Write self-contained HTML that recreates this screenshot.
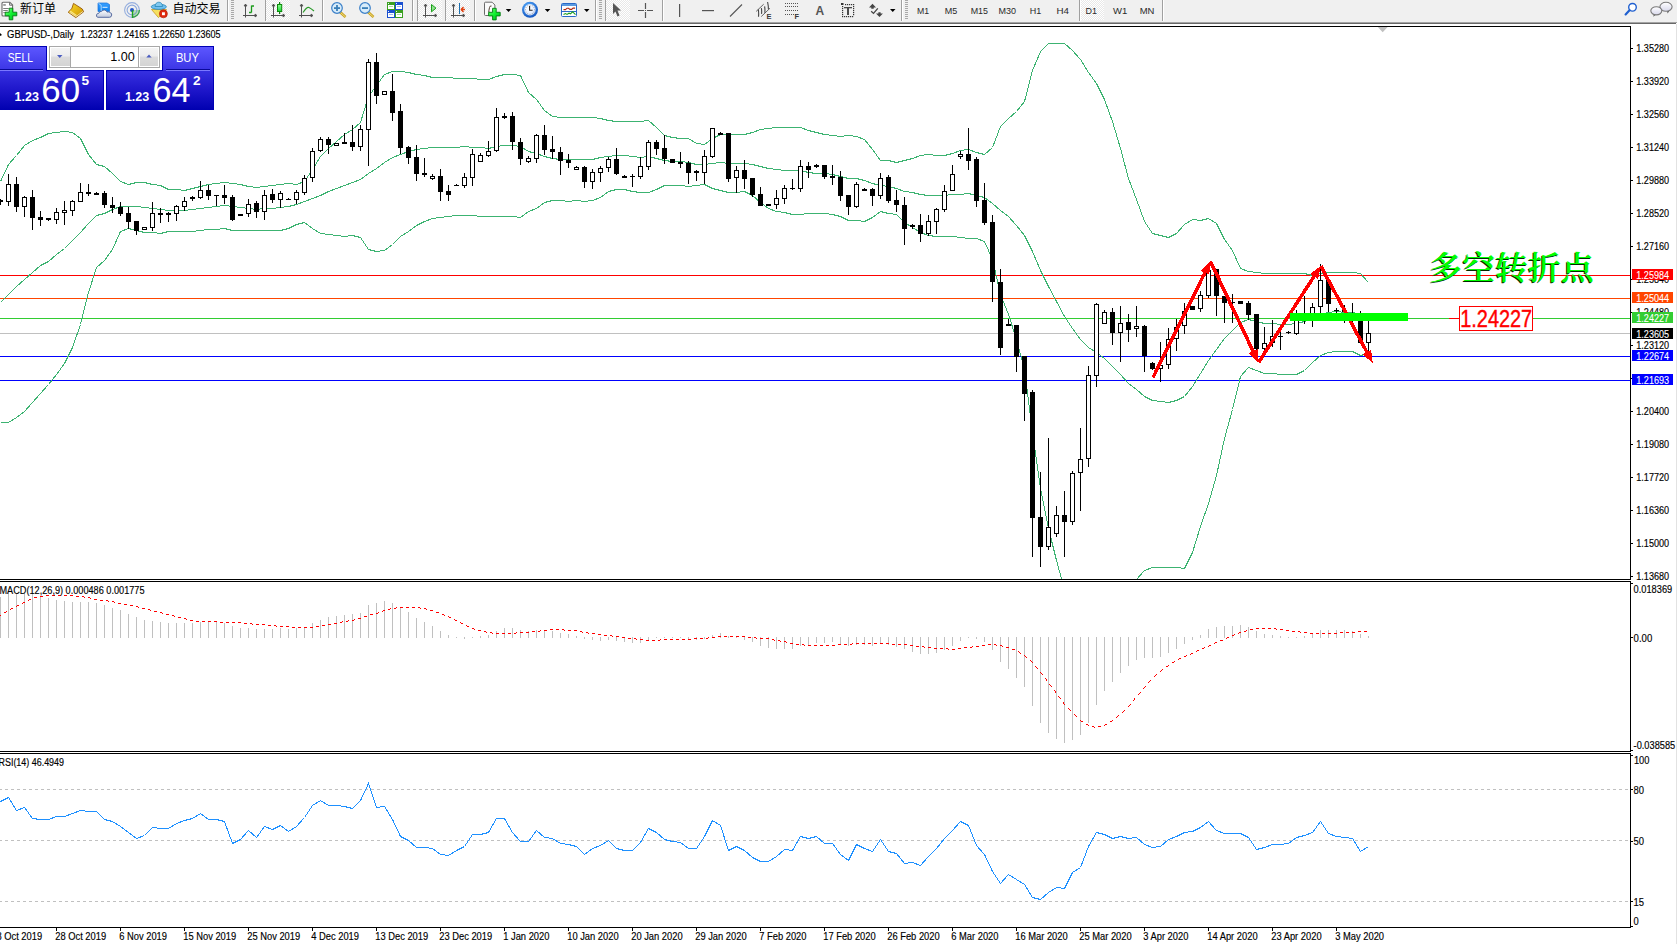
<!DOCTYPE html>
<html><head><meta charset="utf-8"><title>GBPUSD-,Daily</title>
<style>
html,body{margin:0;padding:0;background:#fff;overflow:hidden;width:1677px;height:944px}
svg{display:block}
text{font-family:'Liberation Sans', sans-serif}
.ax{font-size:10px;fill:#000;stroke:#000;stroke-width:0.15px}
</style></head><body>
<svg width="1677" height="944" viewBox="0 0 1677 944">
<rect x="0" y="0" width="1677" height="944" fill="#fff"/>

<defs>
<clipPath id="cm"><rect x="0" y="27" width="1630" height="552"/></clipPath>
<clipPath id="cd"><rect x="0" y="582" width="1630" height="169"/></clipPath>
<clipPath id="cr"><rect x="0" y="754" width="1630" height="173"/></clipPath>
<linearGradient id="gSell" x1="0" y1="0" x2="0" y2="1"><stop offset="0" stop-color="#5a5aff"/><stop offset="1" stop-color="#3232ee"/></linearGradient>
<linearGradient id="gBot" x1="0" y1="0" x2="0" y2="1"><stop offset="0" stop-color="#3030e6"/><stop offset="1" stop-color="#0000b0"/></linearGradient>
<linearGradient id="gSpin" x1="0" y1="0" x2="0" y2="1"><stop offset="0" stop-color="#f4f4f4"/><stop offset="0.45" stop-color="#ececec"/><stop offset="0.5" stop-color="#dcdcdc"/><stop offset="1" stop-color="#d4d4d4"/></linearGradient>
</defs>
<g clip-path="url(#cm)" shape-rendering="crispEdges">
<rect x="0" y="275" width="1630" height="1" fill="#ff0000"/>
<rect x="0" y="298" width="1630" height="1" fill="#ff4500"/>
<rect x="0" y="318" width="1630" height="1" fill="#32cd32"/>
<rect x="0" y="333" width="1630" height="1" fill="#c0c0c0"/>
<rect x="0" y="356" width="1630" height="1" fill="#0000ff"/>
<rect x="0" y="380" width="1630" height="1" fill="#0000ff"/>
<polyline points="0.5,181.5 8.5,164.5 16.5,155.5 24.5,145.5 32.5,140.5 40.5,137.5 48.5,133.5 56.5,132.5 64.5,131.5 72.5,132.5 80.5,138.5 88.5,154.5 96.5,164.5 104.5,166.5 112.5,173.5 120.5,181.5 128.5,184.5 136.5,182.5 144.5,182.5 152.5,184.5 160.5,185.5 168.5,189.5 176.5,189.5 184.5,190.5 192.5,188.5 200.5,186.5 208.5,184.5 216.5,183.5 224.5,182.5 232.5,183.5 240.5,184.5 248.5,186.5 256.5,187.5 264.5,186.5 272.5,185.5 280.5,184.5 288.5,183.5 296.5,184.5 304.5,181.5 312.5,169.5 320.5,156.5 328.5,148.5 336.5,141.5 344.5,134.5 352.5,129.5 360.5,122.5 368.5,96.5 376.5,85.5 384.5,74.5 392.5,71.5 400.5,71.5 408.5,72.5 416.5,74.5 424.5,75.5 432.5,77.5 440.5,77.5 448.5,77.5 456.5,78.5 464.5,78.5 472.5,78.5 480.5,79.5 488.5,79.5 496.5,76.5 504.5,74.5 512.5,74.5 520.5,75.5 528.5,92.5 536.5,99.5 544.5,110.5 552.5,116.5 560.5,117.5 568.5,117.5 576.5,117.5 584.5,117.5 592.5,117.5 600.5,118.5 608.5,120.5 616.5,121.5 624.5,121.5 632.5,121.5 640.5,121.5 648.5,120.5 656.5,127.5 664.5,135.5 672.5,137.5 680.5,138.5 688.5,138.5 696.5,143.5 704.5,144.5 712.5,138.5 720.5,134.5 728.5,134.5 736.5,134.5 744.5,134.5 752.5,132.5 760.5,129.5 768.5,128.5 776.5,127.5 784.5,127.5 792.5,127.5 800.5,127.5 808.5,130.5 816.5,132.5 824.5,134.5 832.5,135.5 840.5,136.5 848.5,135.5 856.5,136.5 864.5,139.5 872.5,149.5 880.5,160.5 888.5,160.5 896.5,162.5 904.5,160.5 912.5,158.5 920.5,155.5 928.5,154.5 936.5,155.5 944.5,155.5 952.5,153.5 960.5,150.5 968.5,149.5 976.5,152.5 984.5,154.5 992.5,147.5 1000.5,126.5 1008.5,118.5 1016.5,111.5 1024.5,101.5 1032.5,70.5 1040.5,51.5 1048.5,43.5 1056.5,43.5 1064.5,43.5 1072.5,50.5 1080.5,59.5 1088.5,72.5 1096.5,83.5 1104.5,99.5 1112.5,121.5 1120.5,148.5 1128.5,178.5 1136.5,199.5 1144.5,221.5 1152.5,233.5 1160.5,235.5 1168.5,237.5 1176.5,233.5 1184.5,224.5 1192.5,219.5 1200.5,220.5 1208.5,218.5 1216.5,223.5 1224.5,239.5 1232.5,250.5 1240.5,268.5 1248.5,271.5 1256.5,272.5 1264.5,273.5 1272.5,273.5 1280.5,273.5 1288.5,273.5 1296.5,273.5 1304.5,273.5 1312.5,275.5 1320.5,273.5 1328.5,272.5 1336.5,272.5 1344.5,272.5 1352.5,272.5 1360.5,273.5 1368.5,282.5" fill="none" stroke="#3cb371" stroke-width="1"/>
<polyline points="0.5,302.5 8.5,294.5 16.5,286.5 24.5,279.5 32.5,272.5 40.5,265.5 48.5,261.5 56.5,254.5 64.5,248.5 72.5,240.5 80.5,232.5 88.5,223.5 96.5,215.5 104.5,213.5 112.5,209.5 120.5,206.5 128.5,206.5 136.5,206.5 144.5,207.5 152.5,208.5 160.5,209.5 168.5,210.5 176.5,210.5 184.5,210.5 192.5,209.5 200.5,208.5 208.5,207.5 216.5,206.5 224.5,205.5 232.5,206.5 240.5,207.5 248.5,208.5 256.5,209.5 264.5,208.5 272.5,208.5 280.5,207.5 288.5,206.5 296.5,204.5 304.5,201.5 312.5,198.5 320.5,195.5 328.5,191.5 336.5,188.5 344.5,185.5 352.5,182.5 360.5,179.5 368.5,173.5 376.5,168.5 384.5,162.5 392.5,157.5 400.5,154.5 408.5,151.5 416.5,149.5 424.5,148.5 432.5,147.5 440.5,147.5 448.5,147.5 456.5,147.5 464.5,146.5 472.5,147.5 480.5,147.5 488.5,148.5 496.5,146.5 504.5,145.5 512.5,145.5 520.5,146.5 528.5,151.5 536.5,153.5 544.5,156.5 552.5,158.5 560.5,159.5 568.5,159.5 576.5,159.5 584.5,159.5 592.5,159.5 600.5,157.5 608.5,156.5 616.5,155.5 624.5,155.5 632.5,156.5 640.5,157.5 648.5,156.5 656.5,158.5 664.5,160.5 672.5,161.5 680.5,161.5 688.5,162.5 696.5,164.5 704.5,164.5 712.5,163.5 720.5,162.5 728.5,163.5 736.5,163.5 744.5,163.5 752.5,164.5 760.5,166.5 768.5,168.5 776.5,169.5 784.5,170.5 792.5,170.5 800.5,170.5 808.5,172.5 816.5,173.5 824.5,173.5 832.5,174.5 840.5,176.5 848.5,178.5 856.5,178.5 864.5,180.5 872.5,183.5 880.5,185.5 888.5,186.5 896.5,188.5 904.5,191.5 912.5,192.5 920.5,194.5 928.5,195.5 936.5,195.5 944.5,195.5 952.5,194.5 960.5,194.5 968.5,193.5 976.5,195.5 984.5,197.5 992.5,203.5 1000.5,210.5 1008.5,216.5 1016.5,225.5 1024.5,235.5 1032.5,251.5 1040.5,270.5 1048.5,286.5 1056.5,301.5 1064.5,316.5 1072.5,328.5 1080.5,339.5 1088.5,347.5 1096.5,352.5 1104.5,358.5 1112.5,366.5 1120.5,374.5 1128.5,383.5 1136.5,389.5 1144.5,396.5 1152.5,400.5 1160.5,401.5 1168.5,402.5 1176.5,400.5 1184.5,396.5 1192.5,386.5 1200.5,373.5 1208.5,360.5 1216.5,349.5 1224.5,338.5 1232.5,330.5 1240.5,322.5 1248.5,319.5 1256.5,321.5 1264.5,323.5 1272.5,323.5 1280.5,324.5 1288.5,324.5 1296.5,323.5 1304.5,321.5 1312.5,318.5 1320.5,314.5 1328.5,312.5 1336.5,311.5 1344.5,312.5 1352.5,312.5 1360.5,314.5 1368.5,317.5" fill="none" stroke="#3cb371" stroke-width="1"/>
<polyline points="0.5,422.5 8.5,422.5 16.5,417.5 24.5,411.5 32.5,402.5 40.5,393.5 48.5,384.5 56.5,374.5 64.5,363.5 72.5,347.5 80.5,324.5 88.5,292.5 96.5,267.5 104.5,260.5 112.5,249.5 120.5,231.5 128.5,228.5 136.5,230.5 144.5,232.5 152.5,232.5 160.5,233.5 168.5,231.5 176.5,231.5 184.5,231.5 192.5,231.5 200.5,230.5 208.5,229.5 216.5,229.5 224.5,228.5 232.5,230.5 240.5,230.5 248.5,230.5 256.5,230.5 264.5,230.5 272.5,230.5 280.5,230.5 288.5,228.5 296.5,224.5 304.5,222.5 312.5,228.5 320.5,233.5 328.5,234.5 336.5,235.5 344.5,236.5 352.5,235.5 360.5,237.5 368.5,249.5 376.5,251.5 384.5,250.5 392.5,244.5 400.5,236.5 408.5,231.5 416.5,225.5 424.5,221.5 432.5,218.5 440.5,217.5 448.5,216.5 456.5,215.5 464.5,215.5 472.5,215.5 480.5,216.5 488.5,216.5 496.5,216.5 504.5,216.5 512.5,216.5 520.5,217.5 528.5,211.5 536.5,208.5 544.5,202.5 552.5,200.5 560.5,200.5 568.5,201.5 576.5,200.5 584.5,201.5 592.5,200.5 600.5,197.5 608.5,191.5 616.5,189.5 624.5,189.5 632.5,191.5 640.5,192.5 648.5,192.5 656.5,189.5 664.5,185.5 672.5,185.5 680.5,185.5 688.5,186.5 696.5,185.5 704.5,184.5 712.5,188.5 720.5,190.5 728.5,192.5 736.5,192.5 744.5,191.5 752.5,195.5 760.5,202.5 768.5,208.5 776.5,211.5 784.5,212.5 792.5,214.5 800.5,214.5 808.5,213.5 816.5,213.5 824.5,213.5 832.5,214.5 840.5,216.5 848.5,220.5 856.5,220.5 864.5,221.5 872.5,217.5 880.5,211.5 888.5,213.5 896.5,214.5 904.5,222.5 912.5,227.5 920.5,232.5 928.5,235.5 936.5,236.5 944.5,236.5 952.5,236.5 960.5,237.5 968.5,238.5 976.5,238.5 984.5,241.5 992.5,259.5 1000.5,294.5 1008.5,314.5 1016.5,339.5 1024.5,369.5 1032.5,432.5 1040.5,488.5 1048.5,528.5 1056.5,560.5 1064.5,589.5 1072.5,606.5 1080.5,620.5 1088.5,622.5 1096.5,620.5 1104.5,617.5 1112.5,611.5 1120.5,601.5 1128.5,588.5 1136.5,579.5 1144.5,570.5 1152.5,567.5 1160.5,567.5 1168.5,567.5 1176.5,567.5 1184.5,568.5 1192.5,552.5 1200.5,526.5 1208.5,503.5 1216.5,475.5 1224.5,438.5 1232.5,409.5 1240.5,376.5 1248.5,367.5 1256.5,370.5 1264.5,373.5 1272.5,373.5 1280.5,374.5 1288.5,374.5 1296.5,374.5 1304.5,370.5 1312.5,362.5 1320.5,355.5 1328.5,352.5 1336.5,351.5 1344.5,351.5 1352.5,351.5 1360.5,355.5 1368.5,353.5" fill="none" stroke="#3cb371" stroke-width="1"/>
<rect x="0" y="199" width="1" height="6" fill="#000"/>
<rect x="-2" y="200" width="5" height="2" fill="#000"/>
<rect x="8" y="174" width="1" height="32" fill="#000"/>
<rect x="6" y="184" width="5" height="18" fill="#000"/>
<rect x="7" y="185" width="3" height="16" fill="#fff"/>
<rect x="16" y="177" width="1" height="35" fill="#000"/>
<rect x="14" y="184" width="5" height="23" fill="#000"/>
<rect x="24" y="196" width="1" height="21" fill="#000"/>
<rect x="22" y="197" width="5" height="10" fill="#000"/>
<rect x="23" y="198" width="3" height="8" fill="#fff"/>
<rect x="32" y="190" width="1" height="40" fill="#000"/>
<rect x="30" y="197" width="5" height="21" fill="#000"/>
<rect x="40" y="211" width="1" height="15" fill="#000"/>
<rect x="38" y="217" width="5" height="3" fill="#000"/>
<rect x="48" y="218" width="1" height="3" fill="#000"/>
<rect x="46" y="218" width="5" height="2" fill="#000"/>
<rect x="56" y="208" width="1" height="16" fill="#000"/>
<rect x="54" y="212" width="5" height="8" fill="#000"/>
<rect x="55" y="213" width="3" height="6" fill="#fff"/>
<rect x="64" y="201" width="1" height="24" fill="#000"/>
<rect x="62" y="210" width="5" height="3" fill="#000"/>
<rect x="63" y="211" width="3" height="1" fill="#fff"/>
<rect x="72" y="200" width="1" height="16" fill="#000"/>
<rect x="70" y="201" width="5" height="10" fill="#000"/>
<rect x="71" y="202" width="3" height="8" fill="#fff"/>
<rect x="80" y="183" width="1" height="19" fill="#000"/>
<rect x="78" y="192" width="5" height="10" fill="#000"/>
<rect x="79" y="193" width="3" height="8" fill="#fff"/>
<rect x="88" y="184" width="1" height="12" fill="#000"/>
<rect x="86" y="192" width="5" height="2" fill="#000"/>
<rect x="96" y="192" width="1" height="3" fill="#000"/>
<rect x="94" y="193" width="5" height="2" fill="#000"/>
<rect x="104" y="191" width="1" height="17" fill="#000"/>
<rect x="102" y="193" width="5" height="12" fill="#000"/>
<rect x="112" y="197" width="1" height="16" fill="#000"/>
<rect x="110" y="205" width="5" height="3" fill="#000"/>
<rect x="120" y="202" width="1" height="14" fill="#000"/>
<rect x="118" y="207" width="5" height="7" fill="#000"/>
<rect x="128" y="207" width="1" height="22" fill="#000"/>
<rect x="126" y="213" width="5" height="9" fill="#000"/>
<rect x="136" y="221" width="1" height="14" fill="#000"/>
<rect x="134" y="221" width="5" height="10" fill="#000"/>
<rect x="144" y="227" width="1" height="3" fill="#000"/>
<rect x="142" y="227" width="5" height="3" fill="#000"/>
<rect x="143" y="228" width="3" height="1" fill="#fff"/>
<rect x="152" y="202" width="1" height="29" fill="#000"/>
<rect x="150" y="213" width="5" height="15" fill="#000"/>
<rect x="151" y="214" width="3" height="13" fill="#fff"/>
<rect x="160" y="208" width="1" height="15" fill="#000"/>
<rect x="158" y="213" width="5" height="2" fill="#000"/>
<rect x="168" y="212" width="1" height="10" fill="#000"/>
<rect x="166" y="213" width="5" height="2" fill="#000"/>
<rect x="176" y="205" width="1" height="16" fill="#000"/>
<rect x="174" y="206" width="5" height="8" fill="#000"/>
<rect x="175" y="207" width="3" height="6" fill="#fff"/>
<rect x="184" y="197" width="1" height="14" fill="#000"/>
<rect x="182" y="201" width="5" height="6" fill="#000"/>
<rect x="183" y="202" width="3" height="4" fill="#fff"/>
<rect x="192" y="196" width="1" height="5" fill="#000"/>
<rect x="190" y="197" width="5" height="2" fill="#000"/>
<rect x="200" y="181" width="1" height="18" fill="#000"/>
<rect x="198" y="190" width="5" height="8" fill="#000"/>
<rect x="199" y="191" width="3" height="6" fill="#fff"/>
<rect x="208" y="185" width="1" height="15" fill="#000"/>
<rect x="206" y="190" width="5" height="6" fill="#000"/>
<rect x="216" y="195" width="1" height="11" fill="#000"/>
<rect x="214" y="195" width="5" height="1" fill="#000"/>
<rect x="224" y="185" width="1" height="19" fill="#000"/>
<rect x="222" y="195" width="5" height="3" fill="#000"/>
<rect x="232" y="195" width="1" height="26" fill="#000"/>
<rect x="230" y="197" width="5" height="23" fill="#000"/>
<rect x="240" y="214" width="1" height="2" fill="#000"/>
<rect x="238" y="214" width="5" height="2" fill="#000"/>
<rect x="248" y="199" width="1" height="18" fill="#000"/>
<rect x="246" y="204" width="5" height="10" fill="#000"/>
<rect x="247" y="205" width="3" height="8" fill="#fff"/>
<rect x="256" y="201" width="1" height="17" fill="#000"/>
<rect x="254" y="203" width="5" height="9" fill="#000"/>
<rect x="264" y="190" width="1" height="30" fill="#000"/>
<rect x="262" y="195" width="5" height="17" fill="#000"/>
<rect x="263" y="196" width="3" height="15" fill="#fff"/>
<rect x="272" y="189" width="1" height="14" fill="#000"/>
<rect x="270" y="194" width="5" height="6" fill="#000"/>
<rect x="280" y="191" width="1" height="17" fill="#000"/>
<rect x="278" y="193" width="5" height="7" fill="#000"/>
<rect x="279" y="194" width="3" height="5" fill="#fff"/>
<rect x="288" y="198" width="1" height="2" fill="#000"/>
<rect x="286" y="199" width="5" height="1" fill="#000"/>
<rect x="296" y="190" width="1" height="14" fill="#000"/>
<rect x="294" y="192" width="5" height="8" fill="#000"/>
<rect x="295" y="193" width="3" height="6" fill="#fff"/>
<rect x="304" y="175" width="1" height="20" fill="#000"/>
<rect x="302" y="178" width="5" height="15" fill="#000"/>
<rect x="303" y="179" width="3" height="13" fill="#fff"/>
<rect x="312" y="148" width="1" height="34" fill="#000"/>
<rect x="310" y="151" width="5" height="27" fill="#000"/>
<rect x="311" y="152" width="3" height="25" fill="#fff"/>
<rect x="320" y="137" width="1" height="15" fill="#000"/>
<rect x="318" y="139" width="5" height="12" fill="#000"/>
<rect x="319" y="140" width="3" height="10" fill="#fff"/>
<rect x="328" y="137" width="1" height="17" fill="#000"/>
<rect x="326" y="139" width="5" height="6" fill="#000"/>
<rect x="336" y="143" width="1" height="3" fill="#000"/>
<rect x="334" y="143" width="5" height="3" fill="#000"/>
<rect x="335" y="144" width="3" height="1" fill="#fff"/>
<rect x="344" y="133" width="1" height="11" fill="#000"/>
<rect x="342" y="142" width="5" height="2" fill="#000"/>
<rect x="352" y="125" width="1" height="26" fill="#000"/>
<rect x="350" y="142" width="5" height="5" fill="#000"/>
<rect x="360" y="125" width="1" height="26" fill="#000"/>
<rect x="358" y="129" width="5" height="18" fill="#000"/>
<rect x="359" y="130" width="3" height="16" fill="#fff"/>
<rect x="368" y="59" width="1" height="107" fill="#000"/>
<rect x="366" y="62" width="5" height="68" fill="#000"/>
<rect x="367" y="63" width="3" height="66" fill="#fff"/>
<rect x="376" y="53" width="1" height="51" fill="#000"/>
<rect x="374" y="62" width="5" height="34" fill="#000"/>
<rect x="384" y="91" width="1" height="4" fill="#000"/>
<rect x="382" y="91" width="5" height="4" fill="#000"/>
<rect x="383" y="92" width="3" height="2" fill="#fff"/>
<rect x="392" y="74" width="1" height="47" fill="#000"/>
<rect x="390" y="91" width="5" height="22" fill="#000"/>
<rect x="400" y="104" width="1" height="50" fill="#000"/>
<rect x="398" y="111" width="5" height="37" fill="#000"/>
<rect x="408" y="146" width="1" height="18" fill="#000"/>
<rect x="406" y="147" width="5" height="11" fill="#000"/>
<rect x="416" y="145" width="1" height="36" fill="#000"/>
<rect x="414" y="157" width="5" height="17" fill="#000"/>
<rect x="424" y="158" width="1" height="19" fill="#000"/>
<rect x="422" y="173" width="5" height="2" fill="#000"/>
<rect x="432" y="174" width="1" height="6" fill="#000"/>
<rect x="430" y="176" width="5" height="3" fill="#000"/>
<rect x="431" y="177" width="3" height="1" fill="#fff"/>
<rect x="440" y="169" width="1" height="32" fill="#000"/>
<rect x="438" y="176" width="5" height="16" fill="#000"/>
<rect x="448" y="185" width="1" height="16" fill="#000"/>
<rect x="446" y="191" width="5" height="4" fill="#000"/>
<rect x="456" y="184" width="1" height="2" fill="#000"/>
<rect x="454" y="185" width="5" height="1" fill="#000"/>
<rect x="464" y="173" width="1" height="15" fill="#000"/>
<rect x="462" y="177" width="5" height="9" fill="#000"/>
<rect x="463" y="178" width="3" height="7" fill="#fff"/>
<rect x="472" y="149" width="1" height="37" fill="#000"/>
<rect x="470" y="154" width="5" height="24" fill="#000"/>
<rect x="471" y="155" width="3" height="22" fill="#fff"/>
<rect x="480" y="153" width="1" height="9" fill="#000"/>
<rect x="478" y="155" width="5" height="7" fill="#000"/>
<rect x="479" y="156" width="3" height="5" fill="#fff"/>
<rect x="488" y="141" width="1" height="16" fill="#000"/>
<rect x="486" y="151" width="5" height="5" fill="#000"/>
<rect x="487" y="152" width="3" height="3" fill="#fff"/>
<rect x="496" y="108" width="1" height="44" fill="#000"/>
<rect x="494" y="117" width="5" height="34" fill="#000"/>
<rect x="495" y="118" width="3" height="32" fill="#fff"/>
<rect x="504" y="113" width="1" height="6" fill="#000"/>
<rect x="502" y="116" width="5" height="2" fill="#000"/>
<rect x="512" y="112" width="1" height="38" fill="#000"/>
<rect x="510" y="116" width="5" height="26" fill="#000"/>
<rect x="520" y="138" width="1" height="27" fill="#000"/>
<rect x="518" y="142" width="5" height="17" fill="#000"/>
<rect x="528" y="156" width="1" height="7" fill="#000"/>
<rect x="526" y="158" width="5" height="4" fill="#000"/>
<rect x="527" y="159" width="3" height="2" fill="#fff"/>
<rect x="536" y="134" width="1" height="29" fill="#000"/>
<rect x="534" y="135" width="5" height="24" fill="#000"/>
<rect x="535" y="136" width="3" height="22" fill="#fff"/>
<rect x="544" y="125" width="1" height="30" fill="#000"/>
<rect x="542" y="135" width="5" height="15" fill="#000"/>
<rect x="552" y="136" width="1" height="23" fill="#000"/>
<rect x="550" y="149" width="5" height="3" fill="#000"/>
<rect x="560" y="147" width="1" height="28" fill="#000"/>
<rect x="558" y="152" width="5" height="9" fill="#000"/>
<rect x="568" y="154" width="1" height="14" fill="#000"/>
<rect x="566" y="160" width="5" height="3" fill="#000"/>
<rect x="576" y="166" width="1" height="4" fill="#000"/>
<rect x="574" y="167" width="5" height="3" fill="#000"/>
<rect x="575" y="168" width="3" height="1" fill="#fff"/>
<rect x="584" y="166" width="1" height="22" fill="#000"/>
<rect x="582" y="167" width="5" height="15" fill="#000"/>
<rect x="592" y="169" width="1" height="20" fill="#000"/>
<rect x="590" y="172" width="5" height="10" fill="#000"/>
<rect x="591" y="173" width="3" height="8" fill="#fff"/>
<rect x="600" y="166" width="1" height="16" fill="#000"/>
<rect x="598" y="168" width="5" height="5" fill="#000"/>
<rect x="599" y="169" width="3" height="3" fill="#fff"/>
<rect x="608" y="157" width="1" height="15" fill="#000"/>
<rect x="606" y="159" width="5" height="9" fill="#000"/>
<rect x="607" y="160" width="3" height="7" fill="#fff"/>
<rect x="616" y="148" width="1" height="27" fill="#000"/>
<rect x="614" y="159" width="5" height="15" fill="#000"/>
<rect x="624" y="175" width="1" height="3" fill="#000"/>
<rect x="622" y="176" width="5" height="2" fill="#000"/>
<rect x="632" y="174" width="1" height="13" fill="#000"/>
<rect x="630" y="176" width="5" height="1" fill="#000"/>
<rect x="640" y="157" width="1" height="22" fill="#000"/>
<rect x="638" y="166" width="5" height="11" fill="#000"/>
<rect x="639" y="167" width="3" height="9" fill="#fff"/>
<rect x="648" y="140" width="1" height="30" fill="#000"/>
<rect x="646" y="142" width="5" height="25" fill="#000"/>
<rect x="647" y="143" width="3" height="23" fill="#fff"/>
<rect x="656" y="140" width="1" height="15" fill="#000"/>
<rect x="654" y="142" width="5" height="7" fill="#000"/>
<rect x="664" y="135" width="1" height="29" fill="#000"/>
<rect x="662" y="148" width="5" height="11" fill="#000"/>
<rect x="672" y="159" width="1" height="4" fill="#000"/>
<rect x="670" y="159" width="5" height="4" fill="#000"/>
<rect x="680" y="152" width="1" height="16" fill="#000"/>
<rect x="678" y="162" width="5" height="2" fill="#000"/>
<rect x="688" y="161" width="1" height="23" fill="#000"/>
<rect x="686" y="163" width="5" height="10" fill="#000"/>
<rect x="696" y="170" width="1" height="11" fill="#000"/>
<rect x="694" y="171" width="5" height="2" fill="#000"/>
<rect x="704" y="150" width="1" height="34" fill="#000"/>
<rect x="702" y="156" width="5" height="17" fill="#000"/>
<rect x="703" y="157" width="3" height="15" fill="#fff"/>
<rect x="712" y="128" width="1" height="30" fill="#000"/>
<rect x="710" y="128" width="5" height="29" fill="#000"/>
<rect x="711" y="129" width="3" height="27" fill="#fff"/>
<rect x="720" y="132" width="1" height="3" fill="#000"/>
<rect x="718" y="133" width="5" height="2" fill="#000"/>
<rect x="728" y="133" width="1" height="49" fill="#000"/>
<rect x="726" y="133" width="5" height="46" fill="#000"/>
<rect x="736" y="166" width="1" height="27" fill="#000"/>
<rect x="734" y="170" width="5" height="8" fill="#000"/>
<rect x="735" y="171" width="3" height="6" fill="#fff"/>
<rect x="744" y="160" width="1" height="29" fill="#000"/>
<rect x="742" y="170" width="5" height="9" fill="#000"/>
<rect x="752" y="178" width="1" height="19" fill="#000"/>
<rect x="750" y="178" width="5" height="17" fill="#000"/>
<rect x="760" y="187" width="1" height="19" fill="#000"/>
<rect x="758" y="194" width="5" height="12" fill="#000"/>
<rect x="768" y="204" width="1" height="2" fill="#000"/>
<rect x="766" y="204" width="5" height="2" fill="#000"/>
<rect x="776" y="190" width="1" height="19" fill="#000"/>
<rect x="774" y="198" width="5" height="7" fill="#000"/>
<rect x="775" y="199" width="3" height="5" fill="#fff"/>
<rect x="784" y="185" width="1" height="19" fill="#000"/>
<rect x="782" y="188" width="5" height="11" fill="#000"/>
<rect x="783" y="189" width="3" height="9" fill="#fff"/>
<rect x="792" y="179" width="1" height="11" fill="#000"/>
<rect x="790" y="188" width="5" height="1" fill="#000"/>
<rect x="800" y="160" width="1" height="32" fill="#000"/>
<rect x="798" y="166" width="5" height="23" fill="#000"/>
<rect x="799" y="167" width="3" height="21" fill="#fff"/>
<rect x="808" y="162" width="1" height="16" fill="#000"/>
<rect x="806" y="166" width="5" height="4" fill="#000"/>
<rect x="816" y="164" width="1" height="4" fill="#000"/>
<rect x="814" y="165" width="5" height="2" fill="#000"/>
<rect x="824" y="165" width="1" height="14" fill="#000"/>
<rect x="822" y="165" width="5" height="12" fill="#000"/>
<rect x="832" y="165" width="1" height="20" fill="#000"/>
<rect x="830" y="176" width="5" height="2" fill="#000"/>
<rect x="840" y="171" width="1" height="30" fill="#000"/>
<rect x="838" y="177" width="5" height="19" fill="#000"/>
<rect x="848" y="195" width="1" height="20" fill="#000"/>
<rect x="846" y="195" width="5" height="12" fill="#000"/>
<rect x="856" y="182" width="1" height="26" fill="#000"/>
<rect x="854" y="184" width="5" height="23" fill="#000"/>
<rect x="855" y="185" width="3" height="21" fill="#fff"/>
<rect x="864" y="188" width="1" height="3" fill="#000"/>
<rect x="862" y="189" width="5" height="2" fill="#000"/>
<rect x="872" y="188" width="1" height="18" fill="#000"/>
<rect x="870" y="189" width="5" height="7" fill="#000"/>
<rect x="880" y="173" width="1" height="26" fill="#000"/>
<rect x="878" y="178" width="5" height="18" fill="#000"/>
<rect x="879" y="179" width="3" height="16" fill="#fff"/>
<rect x="888" y="175" width="1" height="28" fill="#000"/>
<rect x="886" y="177" width="5" height="24" fill="#000"/>
<rect x="896" y="190" width="1" height="22" fill="#000"/>
<rect x="894" y="200" width="5" height="5" fill="#000"/>
<rect x="904" y="197" width="1" height="48" fill="#000"/>
<rect x="902" y="205" width="5" height="24" fill="#000"/>
<rect x="912" y="224" width="1" height="5" fill="#000"/>
<rect x="910" y="225" width="5" height="2" fill="#000"/>
<rect x="920" y="214" width="1" height="28" fill="#000"/>
<rect x="918" y="225" width="5" height="9" fill="#000"/>
<rect x="928" y="215" width="1" height="21" fill="#000"/>
<rect x="926" y="221" width="5" height="13" fill="#000"/>
<rect x="927" y="222" width="3" height="11" fill="#fff"/>
<rect x="936" y="208" width="1" height="26" fill="#000"/>
<rect x="934" y="209" width="5" height="13" fill="#000"/>
<rect x="935" y="210" width="3" height="11" fill="#fff"/>
<rect x="944" y="185" width="1" height="27" fill="#000"/>
<rect x="942" y="191" width="5" height="19" fill="#000"/>
<rect x="943" y="192" width="3" height="17" fill="#fff"/>
<rect x="952" y="165" width="1" height="26" fill="#000"/>
<rect x="950" y="174" width="5" height="17" fill="#000"/>
<rect x="951" y="175" width="3" height="15" fill="#fff"/>
<rect x="960" y="151" width="1" height="8" fill="#000"/>
<rect x="958" y="154" width="5" height="3" fill="#000"/>
<rect x="959" y="155" width="3" height="1" fill="#fff"/>
<rect x="968" y="128" width="1" height="42" fill="#000"/>
<rect x="966" y="154" width="5" height="7" fill="#000"/>
<rect x="976" y="157" width="1" height="50" fill="#000"/>
<rect x="974" y="159" width="5" height="42" fill="#000"/>
<rect x="984" y="183" width="1" height="42" fill="#000"/>
<rect x="982" y="200" width="5" height="23" fill="#000"/>
<rect x="992" y="215" width="1" height="87" fill="#000"/>
<rect x="990" y="222" width="5" height="60" fill="#000"/>
<rect x="1000" y="269" width="1" height="86" fill="#000"/>
<rect x="998" y="282" width="5" height="66" fill="#000"/>
<rect x="1008" y="319" width="1" height="7" fill="#000"/>
<rect x="1006" y="324" width="5" height="2" fill="#000"/>
<rect x="1016" y="325" width="1" height="47" fill="#000"/>
<rect x="1014" y="325" width="5" height="32" fill="#000"/>
<rect x="1024" y="356" width="1" height="65" fill="#000"/>
<rect x="1022" y="356" width="5" height="38" fill="#000"/>
<rect x="1032" y="390" width="1" height="167" fill="#000"/>
<rect x="1030" y="392" width="5" height="126" fill="#000"/>
<rect x="1040" y="472" width="1" height="95" fill="#000"/>
<rect x="1038" y="517" width="5" height="30" fill="#000"/>
<rect x="1048" y="438" width="1" height="112" fill="#000"/>
<rect x="1046" y="527" width="5" height="20" fill="#000"/>
<rect x="1047" y="528" width="3" height="18" fill="#fff"/>
<rect x="1056" y="506" width="1" height="31" fill="#000"/>
<rect x="1054" y="515" width="5" height="19" fill="#000"/>
<rect x="1055" y="516" width="3" height="17" fill="#fff"/>
<rect x="1064" y="491" width="1" height="66" fill="#000"/>
<rect x="1062" y="515" width="5" height="7" fill="#000"/>
<rect x="1072" y="471" width="1" height="54" fill="#000"/>
<rect x="1070" y="473" width="5" height="49" fill="#000"/>
<rect x="1071" y="474" width="3" height="47" fill="#fff"/>
<rect x="1080" y="428" width="1" height="83" fill="#000"/>
<rect x="1078" y="459" width="5" height="14" fill="#000"/>
<rect x="1079" y="460" width="3" height="12" fill="#fff"/>
<rect x="1088" y="366" width="1" height="101" fill="#000"/>
<rect x="1086" y="375" width="5" height="84" fill="#000"/>
<rect x="1087" y="376" width="3" height="82" fill="#fff"/>
<rect x="1096" y="303" width="1" height="84" fill="#000"/>
<rect x="1094" y="304" width="5" height="72" fill="#000"/>
<rect x="1095" y="305" width="3" height="70" fill="#fff"/>
<rect x="1104" y="310" width="1" height="14" fill="#000"/>
<rect x="1102" y="312" width="5" height="12" fill="#000"/>
<rect x="1103" y="313" width="3" height="10" fill="#fff"/>
<rect x="1112" y="308" width="1" height="37" fill="#000"/>
<rect x="1110" y="312" width="5" height="21" fill="#000"/>
<rect x="1120" y="306" width="1" height="56" fill="#000"/>
<rect x="1118" y="323" width="5" height="10" fill="#000"/>
<rect x="1119" y="324" width="3" height="8" fill="#fff"/>
<rect x="1128" y="314" width="1" height="28" fill="#000"/>
<rect x="1126" y="322" width="5" height="8" fill="#000"/>
<rect x="1136" y="306" width="1" height="31" fill="#000"/>
<rect x="1134" y="326" width="5" height="3" fill="#000"/>
<rect x="1135" y="327" width="3" height="1" fill="#fff"/>
<rect x="1144" y="325" width="1" height="47" fill="#000"/>
<rect x="1142" y="326" width="5" height="30" fill="#000"/>
<rect x="1152" y="362" width="1" height="8" fill="#000"/>
<rect x="1150" y="363" width="5" height="6" fill="#000"/>
<rect x="1160" y="342" width="1" height="40" fill="#000"/>
<rect x="1158" y="365" width="5" height="4" fill="#000"/>
<rect x="1159" y="366" width="3" height="2" fill="#fff"/>
<rect x="1168" y="328" width="1" height="41" fill="#000"/>
<rect x="1166" y="339" width="5" height="26" fill="#000"/>
<rect x="1167" y="340" width="3" height="24" fill="#fff"/>
<rect x="1176" y="319" width="1" height="32" fill="#000"/>
<rect x="1174" y="327" width="5" height="12" fill="#000"/>
<rect x="1175" y="328" width="3" height="10" fill="#fff"/>
<rect x="1184" y="303" width="1" height="31" fill="#000"/>
<rect x="1182" y="311" width="5" height="15" fill="#000"/>
<rect x="1183" y="312" width="3" height="13" fill="#fff"/>
<rect x="1192" y="306" width="1" height="4" fill="#000"/>
<rect x="1190" y="306" width="5" height="4" fill="#000"/>
<rect x="1200" y="291" width="1" height="21" fill="#000"/>
<rect x="1198" y="295" width="5" height="14" fill="#000"/>
<rect x="1199" y="296" width="3" height="12" fill="#fff"/>
<rect x="1208" y="263" width="1" height="35" fill="#000"/>
<rect x="1206" y="270" width="5" height="26" fill="#000"/>
<rect x="1207" y="271" width="3" height="24" fill="#fff"/>
<rect x="1216" y="269" width="1" height="47" fill="#000"/>
<rect x="1214" y="269" width="5" height="27" fill="#000"/>
<rect x="1224" y="296" width="1" height="27" fill="#000"/>
<rect x="1222" y="296" width="5" height="7" fill="#000"/>
<rect x="1232" y="294" width="1" height="29" fill="#000"/>
<rect x="1230" y="302" width="5" height="1" fill="#000"/>
<rect x="1240" y="301" width="1" height="3" fill="#000"/>
<rect x="1238" y="301" width="5" height="3" fill="#000"/>
<rect x="1248" y="301" width="1" height="19" fill="#000"/>
<rect x="1246" y="303" width="5" height="12" fill="#000"/>
<rect x="1256" y="314" width="1" height="47" fill="#000"/>
<rect x="1254" y="314" width="5" height="35" fill="#000"/>
<rect x="1264" y="327" width="1" height="23" fill="#000"/>
<rect x="1262" y="343" width="5" height="6" fill="#000"/>
<rect x="1263" y="344" width="3" height="4" fill="#fff"/>
<rect x="1272" y="320" width="1" height="27" fill="#000"/>
<rect x="1270" y="336" width="5" height="7" fill="#000"/>
<rect x="1271" y="337" width="3" height="5" fill="#fff"/>
<rect x="1280" y="331" width="1" height="19" fill="#000"/>
<rect x="1278" y="336" width="5" height="1" fill="#000"/>
<rect x="1288" y="331" width="1" height="3" fill="#000"/>
<rect x="1286" y="332" width="5" height="1" fill="#000"/>
<rect x="1296" y="310" width="1" height="25" fill="#000"/>
<rect x="1294" y="320" width="5" height="14" fill="#000"/>
<rect x="1295" y="321" width="3" height="12" fill="#fff"/>
<rect x="1304" y="296" width="1" height="28" fill="#000"/>
<rect x="1302" y="315" width="5" height="5" fill="#000"/>
<rect x="1303" y="316" width="3" height="3" fill="#fff"/>
<rect x="1312" y="303" width="1" height="24" fill="#000"/>
<rect x="1310" y="307" width="5" height="9" fill="#000"/>
<rect x="1311" y="308" width="3" height="7" fill="#fff"/>
<rect x="1320" y="264" width="1" height="50" fill="#000"/>
<rect x="1318" y="280" width="5" height="27" fill="#000"/>
<rect x="1319" y="281" width="3" height="25" fill="#fff"/>
<rect x="1328" y="278" width="1" height="34" fill="#000"/>
<rect x="1326" y="280" width="5" height="24" fill="#000"/>
<rect x="1336" y="308" width="1" height="10" fill="#000"/>
<rect x="1334" y="310" width="5" height="1" fill="#000"/>
<rect x="1344" y="305" width="1" height="18" fill="#000"/>
<rect x="1342" y="310" width="5" height="2" fill="#000"/>
<rect x="1352" y="303" width="1" height="19" fill="#000"/>
<rect x="1350" y="314" width="5" height="4" fill="#000"/>
<rect x="1351" y="315" width="3" height="2" fill="#fff"/>
<rect x="1360" y="311" width="1" height="32" fill="#000"/>
<rect x="1358" y="321" width="5" height="22" fill="#000"/>
<rect x="1368" y="320" width="1" height="37" fill="#000"/>
<rect x="1366" y="333" width="5" height="10" fill="#000"/>
<rect x="1367" y="334" width="3" height="8" fill="#fff"/>
</g>
<g clip-path="url(#cm)">
<rect x="1449" y="318" width="10" height="1" fill="#ff0000" shape-rendering="crispEdges"/>
<rect x="1459.5" y="306.5" width="73" height="24" fill="#fff" stroke="#ff0000" stroke-width="1" shape-rendering="crispEdges"/>
<text x="1460.2" y="327.4" font-size="23" fill="#ff0000" stroke="#ff0000" stroke-width="0.4" textLength="72" lengthAdjust="spacingAndGlyphs">1.24227</text>
<line x1="1153" y1="377.5" x2="1207.8" y2="266.9" stroke="#ff0000" stroke-width="3.5" shape-rendering="crispEdges"/>
<polygon points="1210.5,261.5 1209.2,274.8 1200.6,270.6" fill="#ff0000" shape-rendering="crispEdges"/>
<line x1="1210.5" y1="261.5" x2="1255.9" y2="357.1" stroke="#ff0000" stroke-width="3.5" shape-rendering="crispEdges"/>
<polygon points="1258.5,362.5 1248.8,353.3 1257.5,349.1" fill="#ff0000" shape-rendering="crispEdges"/>
<line x1="1258.5" y1="362.5" x2="1317.5" y2="271.0" stroke="#ff0000" stroke-width="3.5" shape-rendering="crispEdges"/>
<polygon points="1320.8,266.0 1318.1,279.1 1310.0,273.9" fill="#ff0000" shape-rendering="crispEdges"/>
<line x1="1320.8" y1="266" x2="1370.0" y2="357.9" stroke="#ff0000" stroke-width="3.5" shape-rendering="crispEdges"/>
<polygon points="1372.8,363.2 1362.7,354.4 1371.1,349.9" fill="#ff0000" shape-rendering="crispEdges"/>
<rect x="1290" y="313" width="118" height="8" fill="#00ff00" shape-rendering="crispEdges"/>
<text x="1428.3" y="280" font-size="32" font-weight="600" fill="#002800" style="font-family:'Liberation Serif','Noto Serif CJK SC',serif" textLength="164.5" lengthAdjust="spacingAndGlyphs">多空转折点</text>
<text x="1429.3" y="279" font-size="32" font-weight="600" fill="#00ff00" style="font-family:'Liberation Serif','Noto Serif CJK SC',serif" textLength="164.5" lengthAdjust="spacingAndGlyphs">多空转折点</text>
</g>
<g shape-rendering="crispEdges" fill="#000">
<rect x="0" y="26" width="1631" height="1"/><rect x="0" y="579" width="1631" height="1"/><rect x="1630" y="26" width="1" height="554"/>
<rect x="0" y="581" width="1631" height="1"/><rect x="0" y="751" width="1631" height="1"/><rect x="1630" y="581" width="1" height="171"/>
<rect x="0" y="753" width="1631" height="1"/><rect x="0" y="927" width="1631" height="1"/><rect x="1630" y="753" width="1" height="175"/>
</g>
<rect x="1676" y="24" width="1" height="920" fill="#e2e2e2" shape-rendering="crispEdges"/>
<polygon points="1377.8,27 1387.6,27 1382.7,32.2" fill="#c0c0c0"/>
<g>
<rect x="1631" y="48" width="2" height="1" fill="#000" shape-rendering="crispEdges"/>
<text class="ax" x="1636.3" y="52.3" textLength="32.8" lengthAdjust="spacingAndGlyphs">1.35280</text>
<rect x="1631" y="81" width="2" height="1" fill="#000" shape-rendering="crispEdges"/>
<text class="ax" x="1636.3" y="85.3" textLength="32.8" lengthAdjust="spacingAndGlyphs">1.33920</text>
<rect x="1631" y="114" width="2" height="1" fill="#000" shape-rendering="crispEdges"/>
<text class="ax" x="1636.3" y="118.3" textLength="32.8" lengthAdjust="spacingAndGlyphs">1.32560</text>
<rect x="1631" y="147" width="2" height="1" fill="#000" shape-rendering="crispEdges"/>
<text class="ax" x="1636.3" y="151.3" textLength="32.8" lengthAdjust="spacingAndGlyphs">1.31240</text>
<rect x="1631" y="180" width="2" height="1" fill="#000" shape-rendering="crispEdges"/>
<text class="ax" x="1636.3" y="184.3" textLength="32.8" lengthAdjust="spacingAndGlyphs">1.29880</text>
<rect x="1631" y="213" width="2" height="1" fill="#000" shape-rendering="crispEdges"/>
<text class="ax" x="1636.3" y="217.3" textLength="32.8" lengthAdjust="spacingAndGlyphs">1.28520</text>
<rect x="1631" y="246" width="2" height="1" fill="#000" shape-rendering="crispEdges"/>
<text class="ax" x="1636.3" y="250.3" textLength="32.8" lengthAdjust="spacingAndGlyphs">1.27160</text>
<rect x="1631" y="279" width="2" height="1" fill="#000" shape-rendering="crispEdges"/>
<text class="ax" x="1636.3" y="283.3" textLength="32.8" lengthAdjust="spacingAndGlyphs">1.25840</text>
<rect x="1631" y="312" width="2" height="1" fill="#000" shape-rendering="crispEdges"/>
<text class="ax" x="1636.3" y="316.3" textLength="32.8" lengthAdjust="spacingAndGlyphs">1.24480</text>
<rect x="1631" y="345" width="2" height="1" fill="#000" shape-rendering="crispEdges"/>
<text class="ax" x="1636.3" y="349.3" textLength="32.8" lengthAdjust="spacingAndGlyphs">1.23120</text>
<rect x="1631" y="378" width="2" height="1" fill="#000" shape-rendering="crispEdges"/>
<text class="ax" x="1636.3" y="382.3" textLength="32.8" lengthAdjust="spacingAndGlyphs">1.21800</text>
<rect x="1631" y="411" width="2" height="1" fill="#000" shape-rendering="crispEdges"/>
<text class="ax" x="1636.3" y="415.3" textLength="32.8" lengthAdjust="spacingAndGlyphs">1.20400</text>
<rect x="1631" y="444" width="2" height="1" fill="#000" shape-rendering="crispEdges"/>
<text class="ax" x="1636.3" y="448.3" textLength="32.8" lengthAdjust="spacingAndGlyphs">1.19080</text>
<rect x="1631" y="477" width="2" height="1" fill="#000" shape-rendering="crispEdges"/>
<text class="ax" x="1636.3" y="481.3" textLength="32.8" lengthAdjust="spacingAndGlyphs">1.17720</text>
<rect x="1631" y="510" width="2" height="1" fill="#000" shape-rendering="crispEdges"/>
<text class="ax" x="1636.3" y="514.3" textLength="32.8" lengthAdjust="spacingAndGlyphs">1.16360</text>
<rect x="1631" y="543" width="2" height="1" fill="#000" shape-rendering="crispEdges"/>
<text class="ax" x="1636.3" y="547.3" textLength="32.8" lengthAdjust="spacingAndGlyphs">1.15000</text>
<rect x="1631" y="576" width="2" height="1" fill="#000" shape-rendering="crispEdges"/>
<text class="ax" x="1636.3" y="580.3" textLength="32.8" lengthAdjust="spacingAndGlyphs">1.13680</text>
</g>
<rect x="1632" y="269" width="41" height="11" fill="#ff0000" shape-rendering="crispEdges"/>
<text class="ax" x="1636.3" y="278.5" style="fill:#fff;stroke:#fff;stroke-width:0.1px" textLength="32.8" lengthAdjust="spacingAndGlyphs">1.25984</text>
<rect x="1632" y="292" width="41" height="11" fill="#ff4500" shape-rendering="crispEdges"/>
<text class="ax" x="1636.3" y="301.5" style="fill:#fff;stroke:#fff;stroke-width:0.1px" textLength="32.8" lengthAdjust="spacingAndGlyphs">1.25044</text>
<rect x="1632" y="312" width="41" height="11" fill="#32cd32" shape-rendering="crispEdges"/>
<text class="ax" x="1636.3" y="321.5" style="fill:#fff;stroke:#fff;stroke-width:0.1px" textLength="32.8" lengthAdjust="spacingAndGlyphs">1.24227</text>
<rect x="1632" y="328" width="41" height="11" fill="#000000" shape-rendering="crispEdges"/>
<text class="ax" x="1636.3" y="337.5" style="fill:#fff;stroke:#fff;stroke-width:0.1px" textLength="32.8" lengthAdjust="spacingAndGlyphs">1.23605</text>
<rect x="1632" y="350" width="41" height="11" fill="#0000ff" shape-rendering="crispEdges"/>
<text class="ax" x="1636.3" y="359.5" style="fill:#fff;stroke:#fff;stroke-width:0.1px" textLength="32.8" lengthAdjust="spacingAndGlyphs">1.22674</text>
<rect x="1632" y="374" width="41" height="11" fill="#0000ff" shape-rendering="crispEdges"/>
<text class="ax" x="1636.3" y="383.5" style="fill:#fff;stroke:#fff;stroke-width:0.1px" textLength="32.8" lengthAdjust="spacingAndGlyphs">1.21693</text>
<polygon points="0,33 2,35 0,36" fill="#000"/>
<text class="ax" x="7" y="38.2" textLength="67" lengthAdjust="spacingAndGlyphs">GBPUSD-,Daily</text>
<text class="ax" x="80.2" y="38.2" textLength="32.6" lengthAdjust="spacingAndGlyphs">1.23237</text>
<text class="ax" x="116.6" y="38.2" textLength="32.6" lengthAdjust="spacingAndGlyphs">1.24165</text>
<text class="ax" x="152.2" y="38.2" textLength="32.6" lengthAdjust="spacingAndGlyphs">1.22650</text>
<text class="ax" x="187.9" y="38.2" textLength="32.6" lengthAdjust="spacingAndGlyphs">1.23605</text>
<g shape-rendering="crispEdges">
<linearGradient id="gBtn" x1="0" y1="0" x2="0" y2="1"><stop offset="0" stop-color="#5c56ff"/><stop offset="1" stop-color="#3a34e4"/></linearGradient>
<linearGradient id="gPan" x1="0" y1="0" x2="0" y2="1"><stop offset="0" stop-color="#3630e0"/><stop offset="0.45" stop-color="#2018cc"/><stop offset="1" stop-color="#0000b0"/></linearGradient>
<rect x="0" y="46" width="47" height="25" fill="#0000b4"/>
<rect x="0" y="47" width="46" height="24" fill="url(#gBtn)"/>
<rect x="0" y="70" width="104" height="40" fill="#0000b4"/>
<rect x="0" y="71" width="103" height="39" fill="url(#gPan)"/>
<rect x="0" y="70" width="46" height="1" fill="#3a34e4"/>
<rect x="0" y="69" width="43" height="1" fill="#0a0898"/><rect x="0" y="70" width="43" height="1" fill="#7a78ff"/>
<rect x="162" y="46" width="52" height="25" fill="#0000b4"/>
<rect x="163" y="47" width="50" height="24" fill="url(#gBtn)"/>
<rect x="106" y="70" width="108" height="40" fill="#0000b4"/>
<rect x="107" y="71" width="106" height="39" fill="url(#gPan)"/>
<rect x="163" y="70" width="50" height="1" fill="#3a34e4"/>
<rect x="166" y="69" width="44" height="1" fill="#0a0898"/><rect x="166" y="70" width="44" height="1" fill="#7a78ff"/>
<rect x="49" y="46" width="111" height="22" fill="#a8a8a8"/>
<rect x="50" y="47" width="109" height="20" fill="#ffffff"/>
<rect x="51" y="48" width="19" height="18" fill="url(#gSpin)"/>
<rect x="70" y="47" width="1" height="20" fill="#a8a8a8"/>
<rect x="138" y="47" width="1" height="20" fill="#a8a8a8"/>
<rect x="140" y="48" width="18" height="18" fill="url(#gSpin)"/>
</g>
<polygon points="57,55 62.5,55 59.75,58" fill="#4a5cc0"/>
<polygon points="146.3,57.5 151.7,57.5 149,54.5" fill="#4a5cc0"/>
<text x="134.8" y="61.2" font-size="12" fill="#000" text-anchor="end" textLength="24.5" lengthAdjust="spacingAndGlyphs">1.00</text>
<text x="7.7" y="62" font-size="12" fill="#fff" textLength="25.2" lengthAdjust="spacingAndGlyphs">SELL</text>
<text x="175.9" y="61.8" font-size="12" fill="#fff" textLength="23" lengthAdjust="spacingAndGlyphs">BUY</text>
<text x="14.6" y="101.3" font-size="13" font-weight="700" fill="#fff" textLength="24.4" lengthAdjust="spacingAndGlyphs">1.23</text>
<text x="41.3" y="101.6" font-size="35.5" fill="#fff" textLength="38.8" lengthAdjust="spacingAndGlyphs">60</text>
<text x="81.6" y="85.2" font-size="13" font-weight="700" fill="#fff" textLength="7.6" lengthAdjust="spacingAndGlyphs">5</text>
<text x="124.9" y="101.3" font-size="13" font-weight="700" fill="#fff" textLength="24.4" lengthAdjust="spacingAndGlyphs">1.23</text>
<text x="152.4" y="101.6" font-size="35.5" fill="#fff" textLength="38.0" lengthAdjust="spacingAndGlyphs">64</text>
<text x="192.9" y="85.2" font-size="13" font-weight="700" fill="#fff" textLength="7.6" lengthAdjust="spacingAndGlyphs">2</text>
<g clip-path="url(#cd)">
<g shape-rendering="crispEdges"><rect x="0" y="597" width="1" height="41" fill="#c0c0c0"/><rect x="8" y="593" width="1" height="45" fill="#c0c0c0"/><rect x="16" y="593" width="1" height="45" fill="#c0c0c0"/><rect x="24" y="592" width="1" height="46" fill="#c0c0c0"/><rect x="32" y="594" width="1" height="44" fill="#c0c0c0"/><rect x="40" y="596" width="1" height="42" fill="#c0c0c0"/><rect x="48" y="598" width="1" height="40" fill="#c0c0c0"/><rect x="56" y="600" width="1" height="38" fill="#c0c0c0"/><rect x="64" y="601" width="1" height="37" fill="#c0c0c0"/><rect x="72" y="602" width="1" height="36" fill="#c0c0c0"/><rect x="80" y="602" width="1" height="36" fill="#c0c0c0"/><rect x="88" y="602" width="1" height="36" fill="#c0c0c0"/><rect x="96" y="603" width="1" height="35" fill="#c0c0c0"/><rect x="104" y="605" width="1" height="33" fill="#c0c0c0"/><rect x="112" y="608" width="1" height="30" fill="#c0c0c0"/><rect x="120" y="610" width="1" height="28" fill="#c0c0c0"/><rect x="128" y="614" width="1" height="24" fill="#c0c0c0"/><rect x="136" y="617" width="1" height="21" fill="#c0c0c0"/><rect x="144" y="620" width="1" height="18" fill="#c0c0c0"/><rect x="152" y="621" width="1" height="17" fill="#c0c0c0"/><rect x="160" y="622" width="1" height="16" fill="#c0c0c0"/><rect x="168" y="623" width="1" height="15" fill="#c0c0c0"/><rect x="176" y="623" width="1" height="15" fill="#c0c0c0"/><rect x="184" y="623" width="1" height="15" fill="#c0c0c0"/><rect x="192" y="623" width="1" height="15" fill="#c0c0c0"/><rect x="200" y="622" width="1" height="16" fill="#c0c0c0"/><rect x="208" y="622" width="1" height="16" fill="#c0c0c0"/><rect x="216" y="622" width="1" height="16" fill="#c0c0c0"/><rect x="224" y="623" width="1" height="15" fill="#c0c0c0"/><rect x="232" y="626" width="1" height="12" fill="#c0c0c0"/><rect x="240" y="628" width="1" height="10" fill="#c0c0c0"/><rect x="248" y="628" width="1" height="10" fill="#c0c0c0"/><rect x="256" y="629" width="1" height="9" fill="#c0c0c0"/><rect x="264" y="629" width="1" height="9" fill="#c0c0c0"/><rect x="272" y="629" width="1" height="9" fill="#c0c0c0"/><rect x="280" y="628" width="1" height="10" fill="#c0c0c0"/><rect x="288" y="629" width="1" height="9" fill="#c0c0c0"/><rect x="296" y="628" width="1" height="10" fill="#c0c0c0"/><rect x="304" y="627" width="1" height="11" fill="#c0c0c0"/><rect x="312" y="623" width="1" height="15" fill="#c0c0c0"/><rect x="320" y="620" width="1" height="18" fill="#c0c0c0"/><rect x="328" y="617" width="1" height="21" fill="#c0c0c0"/><rect x="336" y="616" width="1" height="22" fill="#c0c0c0"/><rect x="344" y="615" width="1" height="23" fill="#c0c0c0"/><rect x="352" y="614" width="1" height="24" fill="#c0c0c0"/><rect x="360" y="613" width="1" height="25" fill="#c0c0c0"/><rect x="368" y="605" width="1" height="33" fill="#c0c0c0"/><rect x="376" y="603" width="1" height="35" fill="#c0c0c0"/><rect x="384" y="601" width="1" height="37" fill="#c0c0c0"/><rect x="392" y="603" width="1" height="35" fill="#c0c0c0"/><rect x="400" y="607" width="1" height="31" fill="#c0c0c0"/><rect x="408" y="612" width="1" height="26" fill="#c0c0c0"/><rect x="416" y="618" width="1" height="20" fill="#c0c0c0"/><rect x="424" y="622" width="1" height="16" fill="#c0c0c0"/><rect x="432" y="626" width="1" height="12" fill="#c0c0c0"/><rect x="440" y="631" width="1" height="7" fill="#c0c0c0"/><rect x="448" y="635" width="1" height="3" fill="#c0c0c0"/><rect x="456" y="637" width="1" height="1" fill="#c0c0c0"/><rect x="464" y="637" width="1" height="2" fill="#c0c0c0"/><rect x="472" y="637" width="1" height="1" fill="#c0c0c0"/><rect x="480" y="636" width="1" height="2" fill="#c0c0c0"/><rect x="488" y="635" width="1" height="3" fill="#c0c0c0"/><rect x="496" y="631" width="1" height="7" fill="#c0c0c0"/><rect x="504" y="628" width="1" height="10" fill="#c0c0c0"/><rect x="512" y="628" width="1" height="10" fill="#c0c0c0"/><rect x="520" y="630" width="1" height="8" fill="#c0c0c0"/><rect x="528" y="631" width="1" height="7" fill="#c0c0c0"/><rect x="536" y="630" width="1" height="8" fill="#c0c0c0"/><rect x="544" y="631" width="1" height="7" fill="#c0c0c0"/><rect x="552" y="631" width="1" height="7" fill="#c0c0c0"/><rect x="560" y="633" width="1" height="5" fill="#c0c0c0"/><rect x="568" y="634" width="1" height="4" fill="#c0c0c0"/><rect x="576" y="636" width="1" height="2" fill="#c0c0c0"/><rect x="584" y="637" width="1" height="2" fill="#c0c0c0"/><rect x="592" y="637" width="1" height="3" fill="#c0c0c0"/><rect x="600" y="637" width="1" height="4" fill="#c0c0c0"/><rect x="608" y="637" width="1" height="3" fill="#c0c0c0"/><rect x="616" y="637" width="1" height="4" fill="#c0c0c0"/><rect x="624" y="637" width="1" height="5" fill="#c0c0c0"/><rect x="632" y="637" width="1" height="6" fill="#c0c0c0"/><rect x="640" y="637" width="1" height="6" fill="#c0c0c0"/><rect x="648" y="637" width="1" height="3" fill="#c0c0c0"/><rect x="656" y="637" width="1" height="1" fill="#c0c0c0"/><rect x="664" y="637" width="1" height="1" fill="#c0c0c0"/><rect x="672" y="637" width="1" height="1" fill="#c0c0c0"/><rect x="680" y="637" width="1" height="1" fill="#c0c0c0"/><rect x="688" y="637" width="1" height="2" fill="#c0c0c0"/><rect x="696" y="637" width="1" height="3" fill="#c0c0c0"/><rect x="704" y="637" width="1" height="2" fill="#c0c0c0"/><rect x="712" y="635" width="1" height="3" fill="#c0c0c0"/><rect x="720" y="633" width="1" height="5" fill="#c0c0c0"/><rect x="728" y="636" width="1" height="2" fill="#c0c0c0"/><rect x="736" y="637" width="1" height="1" fill="#c0c0c0"/><rect x="744" y="637" width="1" height="3" fill="#c0c0c0"/><rect x="752" y="637" width="1" height="5" fill="#c0c0c0"/><rect x="760" y="637" width="1" height="9" fill="#c0c0c0"/><rect x="768" y="637" width="1" height="11" fill="#c0c0c0"/><rect x="776" y="637" width="1" height="12" fill="#c0c0c0"/><rect x="784" y="637" width="1" height="12" fill="#c0c0c0"/><rect x="792" y="637" width="1" height="12" fill="#c0c0c0"/><rect x="800" y="637" width="1" height="9" fill="#c0c0c0"/><rect x="808" y="637" width="1" height="8" fill="#c0c0c0"/><rect x="816" y="637" width="1" height="6" fill="#c0c0c0"/><rect x="824" y="637" width="1" height="6" fill="#c0c0c0"/><rect x="832" y="637" width="1" height="5" fill="#c0c0c0"/><rect x="840" y="637" width="1" height="7" fill="#c0c0c0"/><rect x="848" y="637" width="1" height="9" fill="#c0c0c0"/><rect x="856" y="637" width="1" height="8" fill="#c0c0c0"/><rect x="864" y="637" width="1" height="8" fill="#c0c0c0"/><rect x="872" y="637" width="1" height="9" fill="#c0c0c0"/><rect x="880" y="637" width="1" height="7" fill="#c0c0c0"/><rect x="888" y="637" width="1" height="8" fill="#c0c0c0"/><rect x="896" y="637" width="1" height="10" fill="#c0c0c0"/><rect x="904" y="637" width="1" height="12" fill="#c0c0c0"/><rect x="912" y="637" width="1" height="15" fill="#c0c0c0"/><rect x="920" y="637" width="1" height="17" fill="#c0c0c0"/><rect x="928" y="637" width="1" height="17" fill="#c0c0c0"/><rect x="936" y="637" width="1" height="16" fill="#c0c0c0"/><rect x="944" y="637" width="1" height="13" fill="#c0c0c0"/><rect x="952" y="637" width="1" height="9" fill="#c0c0c0"/><rect x="960" y="637" width="1" height="4" fill="#c0c0c0"/><rect x="968" y="637" width="1" height="1" fill="#c0c0c0"/><rect x="976" y="637" width="1" height="2" fill="#c0c0c0"/><rect x="984" y="637" width="1" height="5" fill="#c0c0c0"/><rect x="992" y="637" width="1" height="13" fill="#c0c0c0"/><rect x="1000" y="637" width="1" height="25" fill="#c0c0c0"/><rect x="1008" y="637" width="1" height="32" fill="#c0c0c0"/><rect x="1016" y="637" width="1" height="41" fill="#c0c0c0"/><rect x="1024" y="637" width="1" height="50" fill="#c0c0c0"/><rect x="1032" y="637" width="1" height="69" fill="#c0c0c0"/><rect x="1040" y="637" width="1" height="86" fill="#c0c0c0"/><rect x="1048" y="637" width="1" height="96" fill="#c0c0c0"/><rect x="1056" y="637" width="1" height="102" fill="#c0c0c0"/><rect x="1064" y="637" width="1" height="106" fill="#c0c0c0"/><rect x="1072" y="637" width="1" height="103" fill="#c0c0c0"/><rect x="1080" y="637" width="1" height="98" fill="#c0c0c0"/><rect x="1088" y="637" width="1" height="86" fill="#c0c0c0"/><rect x="1096" y="637" width="1" height="68" fill="#c0c0c0"/><rect x="1104" y="637" width="1" height="54" fill="#c0c0c0"/><rect x="1112" y="637" width="1" height="45" fill="#c0c0c0"/><rect x="1120" y="637" width="1" height="36" fill="#c0c0c0"/><rect x="1128" y="637" width="1" height="29" fill="#c0c0c0"/><rect x="1136" y="637" width="1" height="23" fill="#c0c0c0"/><rect x="1144" y="637" width="1" height="21" fill="#c0c0c0"/><rect x="1152" y="637" width="1" height="21" fill="#c0c0c0"/><rect x="1160" y="637" width="1" height="20" fill="#c0c0c0"/><rect x="1168" y="637" width="1" height="16" fill="#c0c0c0"/><rect x="1176" y="637" width="1" height="12" fill="#c0c0c0"/><rect x="1184" y="637" width="1" height="7" fill="#c0c0c0"/><rect x="1192" y="637" width="1" height="3" fill="#c0c0c0"/><rect x="1200" y="635" width="1" height="3" fill="#c0c0c0"/><rect x="1208" y="629" width="1" height="9" fill="#c0c0c0"/><rect x="1216" y="627" width="1" height="11" fill="#c0c0c0"/><rect x="1224" y="626" width="1" height="12" fill="#c0c0c0"/><rect x="1232" y="626" width="1" height="12" fill="#c0c0c0"/><rect x="1240" y="625" width="1" height="13" fill="#c0c0c0"/><rect x="1248" y="627" width="1" height="11" fill="#c0c0c0"/><rect x="1256" y="631" width="1" height="7" fill="#c0c0c0"/><rect x="1264" y="634" width="1" height="4" fill="#c0c0c0"/><rect x="1272" y="635" width="1" height="3" fill="#c0c0c0"/><rect x="1280" y="636" width="1" height="2" fill="#c0c0c0"/><rect x="1288" y="637" width="1" height="1" fill="#c0c0c0"/><rect x="1296" y="637" width="1" height="1" fill="#c0c0c0"/><rect x="1304" y="636" width="1" height="2" fill="#c0c0c0"/><rect x="1312" y="634" width="1" height="4" fill="#c0c0c0"/><rect x="1320" y="630" width="1" height="8" fill="#c0c0c0"/><rect x="1328" y="630" width="1" height="8" fill="#c0c0c0"/><rect x="1336" y="630" width="1" height="8" fill="#c0c0c0"/><rect x="1344" y="630" width="1" height="8" fill="#c0c0c0"/><rect x="1352" y="631" width="1" height="7" fill="#c0c0c0"/><rect x="1360" y="634" width="1" height="4" fill="#c0c0c0"/><rect x="1368" y="636" width="1" height="2" fill="#c0c0c0"/></g>
<g fill="#ff0000" shape-rendering="crispEdges"><rect x="46" y="595" width="3" height="1"/><rect x="52" y="595" width="3" height="1"/><rect x="58" y="595" width="3" height="1"/><rect x="64" y="595" width="3" height="1"/><rect x="70" y="595" width="3" height="1"/><rect x="40" y="596" width="3" height="1"/><rect x="76" y="596" width="3" height="1"/><rect x="82" y="596" width="2" height="1"/><rect x="34" y="597" width="3" height="1"/><rect x="84" y="597" width="1" height="1"/><rect x="88" y="597" width="2" height="1"/><rect x="90" y="598" width="1" height="1"/><rect x="29" y="599" width="2" height="1"/><rect x="94" y="599" width="3" height="1"/><rect x="28" y="600" width="1" height="1"/><rect x="100" y="600" width="3" height="1"/><rect x="106" y="600" width="2" height="1"/><rect x="108" y="601" width="1" height="1"/><rect x="112" y="601" width="2" height="1"/><rect x="23" y="602" width="2" height="1"/><rect x="114" y="602" width="1" height="1"/><rect x="22" y="603" width="1" height="1"/><rect x="118" y="603" width="3" height="1"/><rect x="124" y="604" width="3" height="1"/><rect x="17" y="605" width="2" height="1"/><rect x="130" y="605" width="3" height="1"/><rect x="16" y="606" width="1" height="1"/><rect x="136" y="606" width="2" height="1"/><rect x="138" y="607" width="1" height="1"/><rect x="396" y="607" width="1" height="1"/><rect x="400" y="607" width="3" height="1"/><rect x="406" y="607" width="3" height="1"/><rect x="412" y="607" width="3" height="1"/><rect x="418" y="607" width="2" height="1"/><rect x="11" y="608" width="2" height="1"/><rect x="142" y="608" width="3" height="1"/><rect x="390" y="608" width="1" height="1"/><rect x="394" y="608" width="2" height="1"/><rect x="420" y="608" width="1" height="1"/><rect x="424" y="608" width="2" height="1"/><rect x="10" y="609" width="1" height="1"/><rect x="148" y="609" width="2" height="1"/><rect x="388" y="609" width="2" height="1"/><rect x="426" y="609" width="1" height="1"/><rect x="150" y="610" width="1" height="1"/><rect x="383" y="610" width="2" height="1"/><rect x="430" y="610" width="3" height="1"/><rect x="6" y="611" width="1" height="1"/><rect x="154" y="611" width="3" height="1"/><rect x="382" y="611" width="1" height="1"/><rect x="4" y="612" width="2" height="1"/><rect x="160" y="612" width="2" height="1"/><rect x="378" y="612" width="1" height="1"/><rect x="436" y="612" width="3" height="1"/><rect x="162" y="613" width="1" height="1"/><rect x="376" y="613" width="2" height="1"/><rect x="166" y="614" width="3" height="1"/><rect x="370" y="614" width="3" height="1"/><rect x="442" y="614" width="2" height="1"/><rect x="0" y="615" width="1" height="1"/><rect x="172" y="615" width="2" height="1"/><rect x="444" y="615" width="1" height="1"/><rect x="174" y="616" width="1" height="1"/><rect x="364" y="616" width="3" height="1"/><rect x="448" y="616" width="1" height="1"/><rect x="178" y="617" width="3" height="1"/><rect x="449" y="617" width="2" height="1"/><rect x="184" y="618" width="2" height="1"/><rect x="358" y="618" width="3" height="1"/><rect x="186" y="619" width="1" height="1"/><rect x="354" y="619" width="1" height="1"/><rect x="454" y="619" width="1" height="1"/><rect x="190" y="620" width="3" height="1"/><rect x="348" y="620" width="1" height="1"/><rect x="352" y="620" width="2" height="1"/><rect x="455" y="620" width="2" height="1"/><rect x="196" y="621" width="3" height="1"/><rect x="202" y="621" width="3" height="1"/><rect x="208" y="621" width="3" height="1"/><rect x="214" y="621" width="3" height="1"/><rect x="342" y="621" width="1" height="1"/><rect x="346" y="621" width="2" height="1"/><rect x="220" y="622" width="3" height="1"/><rect x="226" y="622" width="3" height="1"/><rect x="232" y="622" width="3" height="1"/><rect x="238" y="622" width="3" height="1"/><rect x="340" y="622" width="2" height="1"/><rect x="460" y="622" width="1" height="1"/><rect x="244" y="623" width="3" height="1"/><rect x="250" y="623" width="2" height="1"/><rect x="334" y="623" width="3" height="1"/><rect x="461" y="623" width="2" height="1"/><rect x="252" y="624" width="1" height="1"/><rect x="256" y="624" width="3" height="1"/><rect x="262" y="624" width="3" height="1"/><rect x="328" y="624" width="3" height="1"/><rect x="268" y="625" width="3" height="1"/><rect x="274" y="625" width="2" height="1"/><rect x="322" y="625" width="3" height="1"/><rect x="466" y="625" width="1" height="1"/><rect x="276" y="626" width="1" height="1"/><rect x="280" y="626" width="3" height="1"/><rect x="286" y="626" width="3" height="1"/><rect x="316" y="626" width="3" height="1"/><rect x="467" y="626" width="2" height="1"/><rect x="292" y="627" width="3" height="1"/><rect x="298" y="627" width="3" height="1"/><rect x="304" y="627" width="3" height="1"/><rect x="310" y="627" width="3" height="1"/><rect x="472" y="628" width="2" height="1"/><rect x="1256" y="628" width="3" height="1"/><rect x="1262" y="628" width="3" height="1"/><rect x="1268" y="628" width="3" height="1"/><rect x="1274" y="628" width="2" height="1"/><rect x="474" y="629" width="1" height="1"/><rect x="550" y="629" width="3" height="1"/><rect x="556" y="629" width="3" height="1"/><rect x="562" y="629" width="2" height="1"/><rect x="1250" y="629" width="3" height="1"/><rect x="1276" y="629" width="1" height="1"/><rect x="1280" y="629" width="3" height="1"/><rect x="478" y="630" width="3" height="1"/><rect x="540" y="630" width="1" height="1"/><rect x="544" y="630" width="3" height="1"/><rect x="564" y="630" width="1" height="1"/><rect x="568" y="630" width="3" height="1"/><rect x="574" y="630" width="3" height="1"/><rect x="1246" y="630" width="1" height="1"/><rect x="1286" y="630" width="3" height="1"/><rect x="484" y="631" width="2" height="1"/><rect x="532" y="631" width="3" height="1"/><rect x="538" y="631" width="2" height="1"/><rect x="580" y="631" width="2" height="1"/><rect x="1244" y="631" width="2" height="1"/><rect x="1292" y="631" width="3" height="1"/><rect x="1298" y="631" width="2" height="1"/><rect x="1358" y="631" width="3" height="1"/><rect x="1364" y="631" width="3" height="1"/><rect x="486" y="632" width="1" height="1"/><rect x="490" y="632" width="2" height="1"/><rect x="516" y="632" width="1" height="1"/><rect x="520" y="632" width="3" height="1"/><rect x="526" y="632" width="3" height="1"/><rect x="582" y="632" width="1" height="1"/><rect x="586" y="632" width="2" height="1"/><rect x="1239" y="632" width="2" height="1"/><rect x="1300" y="632" width="1" height="1"/><rect x="1304" y="632" width="3" height="1"/><rect x="1340" y="632" width="3" height="1"/><rect x="1346" y="632" width="3" height="1"/><rect x="1352" y="632" width="3" height="1"/><rect x="492" y="633" width="1" height="1"/><rect x="496" y="633" width="3" height="1"/><rect x="502" y="633" width="3" height="1"/><rect x="508" y="633" width="3" height="1"/><rect x="514" y="633" width="2" height="1"/><rect x="588" y="633" width="1" height="1"/><rect x="592" y="633" width="3" height="1"/><rect x="1238" y="633" width="1" height="1"/><rect x="1310" y="633" width="3" height="1"/><rect x="1316" y="633" width="3" height="1"/><rect x="1322" y="633" width="3" height="1"/><rect x="1328" y="633" width="3" height="1"/><rect x="1334" y="633" width="3" height="1"/><rect x="598" y="634" width="3" height="1"/><rect x="1234" y="634" width="1" height="1"/><rect x="604" y="635" width="3" height="1"/><rect x="610" y="635" width="2" height="1"/><rect x="1232" y="635" width="2" height="1"/><rect x="612" y="636" width="1" height="1"/><rect x="616" y="636" width="3" height="1"/><rect x="718" y="636" width="3" height="1"/><rect x="724" y="636" width="3" height="1"/><rect x="730" y="636" width="3" height="1"/><rect x="736" y="636" width="3" height="1"/><rect x="742" y="636" width="3" height="1"/><rect x="622" y="637" width="3" height="1"/><rect x="708" y="637" width="1" height="1"/><rect x="712" y="637" width="3" height="1"/><rect x="748" y="637" width="3" height="1"/><rect x="754" y="637" width="2" height="1"/><rect x="1227" y="637" width="2" height="1"/><rect x="628" y="638" width="3" height="1"/><rect x="634" y="638" width="2" height="1"/><rect x="694" y="638" width="3" height="1"/><rect x="700" y="638" width="3" height="1"/><rect x="706" y="638" width="2" height="1"/><rect x="756" y="638" width="1" height="1"/><rect x="760" y="638" width="3" height="1"/><rect x="766" y="638" width="3" height="1"/><rect x="1226" y="638" width="1" height="1"/><rect x="636" y="639" width="1" height="1"/><rect x="640" y="639" width="3" height="1"/><rect x="660" y="639" width="1" height="1"/><rect x="664" y="639" width="3" height="1"/><rect x="670" y="639" width="3" height="1"/><rect x="676" y="639" width="3" height="1"/><rect x="682" y="639" width="3" height="1"/><rect x="688" y="639" width="3" height="1"/><rect x="772" y="639" width="2" height="1"/><rect x="646" y="640" width="3" height="1"/><rect x="652" y="640" width="3" height="1"/><rect x="658" y="640" width="2" height="1"/><rect x="774" y="640" width="1" height="1"/><rect x="778" y="640" width="2" height="1"/><rect x="1220" y="640" width="3" height="1"/><rect x="780" y="641" width="1" height="1"/><rect x="784" y="641" width="2" height="1"/><rect x="786" y="642" width="1" height="1"/><rect x="1215" y="642" width="2" height="1"/><rect x="790" y="643" width="3" height="1"/><rect x="852" y="643" width="1" height="1"/><rect x="856" y="643" width="3" height="1"/><rect x="862" y="643" width="3" height="1"/><rect x="868" y="643" width="3" height="1"/><rect x="874" y="643" width="3" height="1"/><rect x="880" y="643" width="3" height="1"/><rect x="886" y="643" width="3" height="1"/><rect x="1214" y="643" width="1" height="1"/><rect x="796" y="644" width="3" height="1"/><rect x="802" y="644" width="2" height="1"/><rect x="838" y="644" width="3" height="1"/><rect x="844" y="644" width="3" height="1"/><rect x="850" y="644" width="2" height="1"/><rect x="892" y="644" width="3" height="1"/><rect x="898" y="644" width="3" height="1"/><rect x="904" y="644" width="3" height="1"/><rect x="988" y="644" width="3" height="1"/><rect x="994" y="644" width="2" height="1"/><rect x="804" y="645" width="1" height="1"/><rect x="808" y="645" width="3" height="1"/><rect x="814" y="645" width="3" height="1"/><rect x="820" y="645" width="3" height="1"/><rect x="826" y="645" width="3" height="1"/><rect x="832" y="645" width="3" height="1"/><rect x="910" y="645" width="3" height="1"/><rect x="982" y="645" width="3" height="1"/><rect x="996" y="645" width="1" height="1"/><rect x="1000" y="645" width="2" height="1"/><rect x="1209" y="645" width="2" height="1"/><rect x="916" y="646" width="3" height="1"/><rect x="922" y="646" width="2" height="1"/><rect x="972" y="646" width="1" height="1"/><rect x="976" y="646" width="3" height="1"/><rect x="1002" y="646" width="1" height="1"/><rect x="1208" y="646" width="1" height="1"/><rect x="924" y="647" width="1" height="1"/><rect x="928" y="647" width="3" height="1"/><rect x="964" y="647" width="3" height="1"/><rect x="970" y="647" width="2" height="1"/><rect x="1006" y="647" width="3" height="1"/><rect x="1204" y="647" width="1" height="1"/><rect x="934" y="648" width="3" height="1"/><rect x="940" y="648" width="3" height="1"/><rect x="946" y="648" width="2" height="1"/><rect x="958" y="648" width="3" height="1"/><rect x="1202" y="648" width="2" height="1"/><rect x="948" y="649" width="1" height="1"/><rect x="952" y="649" width="3" height="1"/><rect x="1012" y="649" width="3" height="1"/><rect x="1197" y="650" width="2" height="1"/><rect x="1018" y="651" width="1" height="1"/><rect x="1196" y="651" width="1" height="1"/><rect x="1019" y="652" width="1" height="1"/><rect x="1020" y="653" width="1" height="1"/><rect x="1191" y="653" width="2" height="1"/><rect x="1190" y="654" width="1" height="1"/><rect x="1024" y="655" width="1" height="1"/><rect x="1186" y="655" width="1" height="1"/><rect x="1025" y="656" width="1" height="1"/><rect x="1184" y="656" width="2" height="1"/><rect x="1026" y="657" width="1" height="1"/><rect x="1179" y="658" width="2" height="1"/><rect x="1178" y="659" width="1" height="1"/><rect x="1030" y="660" width="1" height="1"/><rect x="1031" y="661" width="1" height="1"/><rect x="1174" y="661" width="1" height="1"/><rect x="1032" y="662" width="1" height="1"/><rect x="1172" y="662" width="2" height="1"/><rect x="1168" y="665" width="1" height="1"/><rect x="1035" y="666" width="1" height="1"/><rect x="1166" y="666" width="2" height="1"/><rect x="1036" y="667" width="1" height="1"/><rect x="1037" y="668" width="1" height="1"/><rect x="1162" y="669" width="1" height="1"/><rect x="1161" y="670" width="1" height="1"/><rect x="1160" y="671" width="1" height="1"/><rect x="1040" y="672" width="1" height="1"/><rect x="1041" y="673" width="1" height="1"/><rect x="1042" y="674" width="1" height="1"/><rect x="1156" y="674" width="1" height="1"/><rect x="1155" y="675" width="1" height="1"/><rect x="1154" y="676" width="1" height="1"/><rect x="1045" y="678" width="1" height="1"/><rect x="1046" y="679" width="1" height="1"/><rect x="1046" y="680" width="1" height="1"/><rect x="1150" y="680" width="1" height="1"/><rect x="1149" y="681" width="1" height="1"/><rect x="1148" y="682" width="1" height="1"/><rect x="1049" y="684" width="1" height="1"/><rect x="1050" y="685" width="1" height="1"/><rect x="1051" y="686" width="1" height="1"/><rect x="1145" y="686" width="1" height="1"/><rect x="1144" y="687" width="1" height="1"/><rect x="1143" y="688" width="1" height="1"/><rect x="1054" y="690" width="1" height="1"/><rect x="1055" y="691" width="1" height="1"/><rect x="1055" y="692" width="1" height="1"/><rect x="1140" y="692" width="1" height="1"/><rect x="1139" y="693" width="1" height="1"/><rect x="1138" y="694" width="1" height="1"/><rect x="1058" y="696" width="1" height="1"/><rect x="1059" y="697" width="1" height="1"/><rect x="1060" y="698" width="1" height="1"/><rect x="1134" y="698" width="1" height="1"/><rect x="1134" y="699" width="1" height="1"/><rect x="1133" y="700" width="1" height="1"/><rect x="1063" y="702" width="1" height="1"/><rect x="1063" y="703" width="1" height="1"/><rect x="1064" y="704" width="1" height="1"/><rect x="1130" y="704" width="1" height="1"/><rect x="1129" y="705" width="1" height="1"/><rect x="1128" y="706" width="1" height="1"/><rect x="1068" y="708" width="1" height="1"/><rect x="1069" y="709" width="1" height="1"/><rect x="1070" y="710" width="1" height="1"/><rect x="1124" y="710" width="1" height="1"/><rect x="1123" y="711" width="1" height="1"/><rect x="1122" y="712" width="1" height="1"/><rect x="1074" y="714" width="1" height="1"/><rect x="1075" y="715" width="1" height="1"/><rect x="1118" y="715" width="1" height="1"/><rect x="1076" y="716" width="1" height="1"/><rect x="1117" y="716" width="1" height="1"/><rect x="1116" y="717" width="1" height="1"/><rect x="1080" y="720" width="1" height="1"/><rect x="1112" y="720" width="1" height="1"/><rect x="1081" y="721" width="2" height="1"/><rect x="1110" y="721" width="2" height="1"/><rect x="1086" y="724" width="2" height="1"/><rect x="1105" y="724" width="2" height="1"/><rect x="1088" y="725" width="1" height="1"/><rect x="1104" y="725" width="1" height="1"/><rect x="1092" y="726" width="2" height="1"/><rect x="1098" y="726" width="3" height="1"/><rect x="1094" y="727" width="1" height="1"/></g>
</g>
<text class="ax" x="-0.5" y="593.6" textLength="145" lengthAdjust="spacingAndGlyphs">MACD(12,26,9) 0.000486 0.001775</text>
<rect x="1631" y="583" width="2" height="1" fill="#000" shape-rendering="crispEdges"/>
<rect x="1631" y="637" width="2" height="1" fill="#000" shape-rendering="crispEdges"/>
<rect x="1631" y="750" width="2" height="1" fill="#000" shape-rendering="crispEdges"/>
<text class="ax" x="1633.6" y="592.7" textLength="38.6" lengthAdjust="spacingAndGlyphs">0.018369</text>
<text class="ax" x="1633.6" y="641.5" textLength="18.6" lengthAdjust="spacingAndGlyphs">0.00</text>
<text class="ax" x="1633.6" y="748.9" textLength="41.6" lengthAdjust="spacingAndGlyphs">-0.038585</text>
<g clip-path="url(#cr)">
<line x1="-1" y1="789.5" x2="1630" y2="789.5" stroke="#c0c0c0" stroke-width="1" stroke-dasharray="3,3" shape-rendering="crispEdges"/>
<line x1="-1" y1="840.5" x2="1630" y2="840.5" stroke="#c0c0c0" stroke-width="1" stroke-dasharray="3,3" shape-rendering="crispEdges"/>
<line x1="-1" y1="901.5" x2="1630" y2="901.5" stroke="#c0c0c0" stroke-width="1" stroke-dasharray="3,3" shape-rendering="crispEdges"/>
<polyline points="0.5,801.5 8.5,797.5 16.5,810.5 24.5,807.5 32.5,818.5 40.5,819.5 48.5,819.5 56.5,816.5 64.5,816.5 72.5,813.5 80.5,810.5 88.5,811.5 96.5,811.5 104.5,819.5 112.5,821.5 120.5,826.5 128.5,832.5 136.5,838.5 144.5,835.5 152.5,827.5 160.5,828.5 168.5,828.5 176.5,823.5 184.5,820.5 192.5,818.5 200.5,813.5 208.5,819.5 216.5,819.5 224.5,821.5 232.5,843.5 240.5,839.5 248.5,830.5 256.5,837.5 264.5,826.5 272.5,829.5 280.5,825.5 288.5,831.5 296.5,826.5 304.5,817.5 312.5,805.5 320.5,800.5 328.5,805.5 336.5,805.5 344.5,806.5 352.5,808.5 360.5,800.5 368.5,783.5 376.5,807.5 384.5,806.5 392.5,819.5 400.5,836.5 408.5,840.5 416.5,847.5 424.5,847.5 432.5,848.5 440.5,854.5 448.5,855.5 456.5,850.5 464.5,846.5 472.5,834.5 480.5,834.5 488.5,832.5 496.5,818.5 504.5,818.5 512.5,832.5 520.5,841.5 528.5,841.5 536.5,830.5 544.5,837.5 552.5,838.5 560.5,843.5 568.5,844.5 576.5,846.5 584.5,854.5 592.5,848.5 600.5,845.5 608.5,840.5 616.5,848.5 624.5,850.5 632.5,850.5 640.5,842.5 648.5,828.5 656.5,832.5 664.5,839.5 672.5,841.5 680.5,842.5 688.5,848.5 696.5,848.5 704.5,836.5 712.5,820.5 720.5,825.5 728.5,850.5 736.5,846.5 744.5,850.5 752.5,857.5 760.5,861.5 768.5,861.5 776.5,856.5 784.5,849.5 792.5,850.5 800.5,836.5 808.5,838.5 816.5,836.5 824.5,843.5 832.5,843.5 840.5,854.5 848.5,860.5 856.5,844.5 864.5,848.5 872.5,851.5 880.5,839.5 888.5,851.5 896.5,853.5 904.5,863.5 912.5,862.5 920.5,865.5 928.5,856.5 936.5,848.5 944.5,838.5 952.5,830.5 960.5,821.5 968.5,825.5 976.5,845.5 984.5,854.5 992.5,871.5 1000.5,883.5 1008.5,874.5 1016.5,879.5 1024.5,884.5 1032.5,897.5 1040.5,899.5 1048.5,892.5 1056.5,887.5 1064.5,888.5 1072.5,872.5 1080.5,867.5 1088.5,846.5 1096.5,832.5 1104.5,834.5 1112.5,838.5 1120.5,836.5 1128.5,838.5 1136.5,837.5 1144.5,844.5 1152.5,847.5 1160.5,846.5 1168.5,839.5 1176.5,836.5 1184.5,832.5 1192.5,831.5 1200.5,827.5 1208.5,821.5 1216.5,830.5 1224.5,833.5 1232.5,833.5 1240.5,833.5 1248.5,837.5 1256.5,849.5 1264.5,847.5 1272.5,844.5 1280.5,844.5 1288.5,843.5 1296.5,837.5 1304.5,835.5 1312.5,832.5 1320.5,821.5 1328.5,833.5 1336.5,836.5 1344.5,837.5 1352.5,838.5 1360.5,851.5 1368.5,846.5" fill="none" stroke="#1e90ff" stroke-width="1" shape-rendering="crispEdges"/>
</g>
<text class="ax" x="-1.5" y="765.5" textLength="65.5" lengthAdjust="spacingAndGlyphs">RSI(14) 46.4949</text>
<rect x="1631" y="755" width="2" height="1" fill="#000" shape-rendering="crispEdges"/>
<rect x="1631" y="789" width="2" height="1" fill="#000" shape-rendering="crispEdges"/>
<rect x="1631" y="841" width="2" height="1" fill="#000" shape-rendering="crispEdges"/>
<rect x="1631" y="901" width="2" height="1" fill="#000" shape-rendering="crispEdges"/>
<rect x="1631" y="926" width="2" height="1" fill="#000" shape-rendering="crispEdges"/>
<text class="ax" x="1633.9" y="764.4" textLength="15.5" lengthAdjust="spacingAndGlyphs">100</text>
<text class="ax" x="1633.6" y="793.6" textLength="10.5" lengthAdjust="spacingAndGlyphs">80</text>
<text class="ax" x="1633.6" y="844.5" textLength="10.5" lengthAdjust="spacingAndGlyphs">50</text>
<text class="ax" x="1633.6" y="905.8" textLength="10.5" lengthAdjust="spacingAndGlyphs">15</text>
<text class="ax" x="1633.6" y="924.8" textLength="5.2" lengthAdjust="spacingAndGlyphs">0</text>
<text class="ax" transform="translate(-8.8,939.7) scale(0.936,1)">18 Oct 2019</text>
<rect x="56" y="928" width="1" height="3" fill="#000" shape-rendering="crispEdges"/>
<text class="ax" transform="translate(55.2,939.7) scale(0.936,1)">28 Oct 2019</text>
<rect x="120" y="928" width="1" height="3" fill="#000" shape-rendering="crispEdges"/>
<text class="ax" transform="translate(119.2,939.7) scale(0.936,1)">6 Nov 2019</text>
<rect x="184" y="928" width="1" height="3" fill="#000" shape-rendering="crispEdges"/>
<text class="ax" transform="translate(183.2,939.7) scale(0.936,1)">15 Nov 2019</text>
<rect x="248" y="928" width="1" height="3" fill="#000" shape-rendering="crispEdges"/>
<text class="ax" transform="translate(247.2,939.7) scale(0.936,1)">25 Nov 2019</text>
<rect x="312" y="928" width="1" height="3" fill="#000" shape-rendering="crispEdges"/>
<text class="ax" transform="translate(311.2,939.7) scale(0.936,1)">4 Dec 2019</text>
<rect x="376" y="928" width="1" height="3" fill="#000" shape-rendering="crispEdges"/>
<text class="ax" transform="translate(375.2,939.7) scale(0.936,1)">13 Dec 2019</text>
<rect x="440" y="928" width="1" height="3" fill="#000" shape-rendering="crispEdges"/>
<text class="ax" transform="translate(439.2,939.7) scale(0.936,1)">23 Dec 2019</text>
<rect x="504" y="928" width="1" height="3" fill="#000" shape-rendering="crispEdges"/>
<text class="ax" transform="translate(503.2,939.7) scale(0.936,1)">1 Jan 2020</text>
<rect x="568" y="928" width="1" height="3" fill="#000" shape-rendering="crispEdges"/>
<text class="ax" transform="translate(567.2,939.7) scale(0.936,1)">10 Jan 2020</text>
<rect x="632" y="928" width="1" height="3" fill="#000" shape-rendering="crispEdges"/>
<text class="ax" transform="translate(631.2,939.7) scale(0.936,1)">20 Jan 2020</text>
<rect x="696" y="928" width="1" height="3" fill="#000" shape-rendering="crispEdges"/>
<text class="ax" transform="translate(695.2,939.7) scale(0.936,1)">29 Jan 2020</text>
<rect x="760" y="928" width="1" height="3" fill="#000" shape-rendering="crispEdges"/>
<text class="ax" transform="translate(759.2,939.7) scale(0.936,1)">7 Feb 2020</text>
<rect x="824" y="928" width="1" height="3" fill="#000" shape-rendering="crispEdges"/>
<text class="ax" transform="translate(823.2,939.7) scale(0.936,1)">17 Feb 2020</text>
<rect x="888" y="928" width="1" height="3" fill="#000" shape-rendering="crispEdges"/>
<text class="ax" transform="translate(887.2,939.7) scale(0.936,1)">26 Feb 2020</text>
<rect x="952" y="928" width="1" height="3" fill="#000" shape-rendering="crispEdges"/>
<text class="ax" transform="translate(951.2,939.7) scale(0.936,1)">6 Mar 2020</text>
<rect x="1016" y="928" width="1" height="3" fill="#000" shape-rendering="crispEdges"/>
<text class="ax" transform="translate(1015.2,939.7) scale(0.936,1)">16 Mar 2020</text>
<rect x="1080" y="928" width="1" height="3" fill="#000" shape-rendering="crispEdges"/>
<text class="ax" transform="translate(1079.2,939.7) scale(0.936,1)">25 Mar 2020</text>
<rect x="1144" y="928" width="1" height="3" fill="#000" shape-rendering="crispEdges"/>
<text class="ax" transform="translate(1143.2,939.7) scale(0.936,1)">3 Apr 2020</text>
<rect x="1208" y="928" width="1" height="3" fill="#000" shape-rendering="crispEdges"/>
<text class="ax" transform="translate(1207.2,939.7) scale(0.936,1)">14 Apr 2020</text>
<rect x="1272" y="928" width="1" height="3" fill="#000" shape-rendering="crispEdges"/>
<text class="ax" transform="translate(1271.2,939.7) scale(0.936,1)">23 Apr 2020</text>
<rect x="1336" y="928" width="1" height="3" fill="#000" shape-rendering="crispEdges"/>
<text class="ax" transform="translate(1335.2,939.7) scale(0.936,1)">3 May 2020</text>
<g id="toolbar">
<rect x="0" y="0" width="1677" height="22" fill="#f0f0f0"/>
<rect x="0" y="22" width="1677" height="1" fill="#a4a4a4" shape-rendering="crispEdges"/>
<rect x="0" y="23" width="1676" height="1" fill="#686868" shape-rendering="crispEdges"/>
<defs><pattern id="dots" width="2" height="2" patternUnits="userSpaceOnUse"><rect width="1" height="1" fill="#ffffff"/><rect x="1" y="1" width="1" height="1" fill="#ffffff"/></pattern><linearGradient id="gGold" x1="0" y1="0" x2="1" y2="1"><stop offset="0" stop-color="#ffe680"/><stop offset="0.5" stop-color="#e8b820"/><stop offset="1" stop-color="#a86a10"/></linearGradient><radialGradient id="gClock" cx="0.4" cy="0.35" r="0.7"><stop offset="0" stop-color="#ffffff"/><stop offset="0.6" stop-color="#e8f0ff"/><stop offset="1" stop-color="#c0d0f0"/></radialGradient><linearGradient id="gBlue" x1="0" y1="0" x2="0" y2="1"><stop offset="0" stop-color="#4aa8ff"/><stop offset="1" stop-color="#1060d0"/></linearGradient><linearGradient id="gGreen" x1="0" y1="0" x2="0" y2="1"><stop offset="0" stop-color="#7ee07e"/><stop offset="1" stop-color="#18a018"/></linearGradient></defs>
<path d="M2,3.2 q0,-1 1,-1 h6.8 l2.8,2.8 v10 q0,1 -1,1 h-8.6 q-1,0 -1,-1 z" fill="#ffffff" stroke="#6a6a6a" stroke-width="1.1"/>
<path d="M9.6,2.4 v2.8 h2.8" fill="none" stroke="#6a6a6a" stroke-width="1"/>
<rect x="3.2" y="4.3" width="2.6" height="1.3" fill="#707070"/><rect x="3.2" y="8" width="5.5" height="0.9" fill="#707070"/><rect x="3.2" y="10.1" width="4.6" height="0.9" fill="#707070"/><rect x="3.2" y="12.2" width="3" height="0.9" fill="#808080"/>
<linearGradient id="gPlus" x1="0" y1="0" x2="1" y2="1"><stop offset="0" stop-color="#80ff80"/><stop offset="0.5" stop-color="#10f030"/><stop offset="1" stop-color="#00b020"/></linearGradient>
<path d="M9.2,8.2 h3.6 v4 h4 v3.6 h-4 v4 h-3.6 v-4 h-4 v-3.6 h4 z" fill="url(#gPlus)" stroke="#007a10" stroke-width="0.9"/>
<text x="20" y="13.3" font-size="12" style="font-family:'Liberation Sans', 'Noto Sans CJK SC', sans-serif" fill="#000">新订单</text>
<linearGradient id="gGold2" x1="0" y1="0" x2="1" y2="1"><stop offset="0" stop-color="#f8d830"/><stop offset="0.6" stop-color="#e0b010"/><stop offset="1" stop-color="#c08a10"/></linearGradient>
<path d="M73.5,3.4 L82.3,9 L83.6,11.8 L75.8,17.6 L68.2,12.2 L71.8,8.6 Z" fill="url(#gGold2)" stroke="#9a5a08" stroke-width="0.9" stroke-linejoin="round"/>
<path d="M69.5,12.3 L76,16.6 L83,11.4" fill="none" stroke="#f4e8b0" stroke-width="0.9"/>
<path d="M70,11 L76.5,15.4" fill="none" stroke="#fff2a0" stroke-width="1.2" stroke-opacity="0.8"/>
<linearGradient id="gBox" x1="0" y1="0" x2="0" y2="1"><stop offset="0" stop-color="#3aa0ff"/><stop offset="1" stop-color="#0a80f0"/></linearGradient>
<path d="M98,3 h9 l2.5,1.5 v7 h-11.5 z" fill="url(#gBox)" stroke="#1a70d8" stroke-width="0.7"/>
<path d="M98.5,3.3 l2.7,2 v6" fill="none" stroke="#c8e6ff" stroke-width="0.8"/>
<rect x="102.5" y="6.8" width="5" height="1" fill="#e0f0ff"/>
<linearGradient id="gCloud" x1="0" y1="0" x2="0" y2="1"><stop offset="0" stop-color="#ffffff"/><stop offset="1" stop-color="#c0c8dc"/></linearGradient>
<path d="M97.8,17.3 q-1.6,-0.2 -1.3,-2.3 q0.4,-1.8 2.2,-1.6 q0.6,-2.2 3,-2.1 q1,-1.5 3,-1.2 q2,0.3 2.4,2 q1.3,-0.6 2.6,0.4 q2.4,0.4 2,2.6 q-0.3,2.2 -2.2,2.2 z" fill="url(#gCloud)" stroke="#4a6098" stroke-width="0.9"/>
<radialGradient id="gSig" cx="0.5" cy="0.5" r="0.5"><stop offset="0" stop-color="#ffffff"/><stop offset="1" stop-color="#e8f0e8"/></radialGradient>
<path d="M132,10 L132,17.8 A7.8,7.8 0 0 0 139.8,10 Z" fill="#a8dca0" fill-opacity="0.85"/>
<circle cx="132" cy="10" r="7.4" fill="none" stroke="#4a78d0" stroke-opacity="0.55" stroke-width="1.1"/>
<circle cx="132" cy="10" r="4.9" fill="none" stroke="#4a78d0" stroke-opacity="0.6" stroke-width="1.1"/>
<path d="M132,17.4 A7.4,7.4 0 0 0 139.4,10" fill="none" stroke="#30a040" stroke-width="1.1"/>
<circle cx="132" cy="10" r="2" fill="#2858c8"/><rect x="131.8" y="10.2" width="1.4" height="7.6" fill="#20a020"/>
<path d="M151.5,9.5 L166.5,9.5 L158.5,17.6 Z" fill="#f6e060" stroke="#c89a20" stroke-width="0.8" stroke-linejoin="round"/>
<ellipse cx="158.8" cy="6.8" rx="7.6" ry="2.6" fill="#70c0f0" stroke="#2a88b8" stroke-width="0.8"/>
<path d="M155,6.5 q0.5,-4.3 3.8,-4.3 q3.3,0 3.8,4.3 z" fill="#80c8f0" stroke="#2a88b8" stroke-width="0.8"/>
<circle cx="163.4" cy="13.8" r="4" fill="#e02a10" stroke="#b01800" stroke-width="0.6"/><rect x="162" y="12.3" width="2.9" height="2.9" fill="#fff"/>
<text x="172.6" y="13.3" font-size="12" style="font-family:'Liberation Sans', 'Noto Sans CJK SC', sans-serif" fill="#000">自动交易</text>
<rect x="227" y="0" width="1" height="21" fill="#a0a0a0" shape-rendering="crispEdges"/><rect x="228" y="0" width="1" height="21" fill="#ffffff" shape-rendering="crispEdges"/>
<rect x="231" y="0" width="3" height="1" fill="#a8a8a8" shape-rendering="crispEdges"/>
<rect x="231" y="2" width="3" height="1" fill="#a8a8a8" shape-rendering="crispEdges"/>
<rect x="231" y="4" width="3" height="1" fill="#a8a8a8" shape-rendering="crispEdges"/>
<rect x="231" y="6" width="3" height="1" fill="#a8a8a8" shape-rendering="crispEdges"/>
<rect x="231" y="8" width="3" height="1" fill="#a8a8a8" shape-rendering="crispEdges"/>
<rect x="231" y="10" width="3" height="1" fill="#a8a8a8" shape-rendering="crispEdges"/>
<rect x="231" y="12" width="3" height="1" fill="#a8a8a8" shape-rendering="crispEdges"/>
<rect x="231" y="14" width="3" height="1" fill="#a8a8a8" shape-rendering="crispEdges"/>
<rect x="231" y="16" width="3" height="1" fill="#a8a8a8" shape-rendering="crispEdges"/>
<rect x="231" y="18" width="3" height="1" fill="#a8a8a8" shape-rendering="crispEdges"/>
<path d="M245.5,4.5 v13 M243,15.5 h13.5" stroke="#505050" stroke-width="1" fill="none"/>
<path d="M244,6 l1.5,-2 l1.5,2 Z M255,14 l2,1.5 l-2,1.5 Z" stroke="#505050" stroke-width="0.8" fill="#505050"/>
<path d="M251.5,5.5 v7 M251.5,6 h2.5 M251.5,12.5 h-2.5" stroke="#1a9a1a" stroke-width="1.3" fill="none"/>
<rect x="265" y="0" width="1" height="21" fill="#a0a0a0" shape-rendering="crispEdges"/><rect x="266" y="0" width="1" height="21" fill="#ffffff" shape-rendering="crispEdges"/>
<rect x="266" y="0" width="24" height="20" fill="#e8e8e8"/>
<rect x="266" y="0" width="24" height="20" fill="url(#dots)"/>
<path d="M273.5,4.5 v13 M271,15.5 h13.5" stroke="#505050" stroke-width="1" fill="none"/>
<path d="M272,6 l1.5,-2 l1.5,2 Z M283,14 l2,1.5 l-2,1.5 Z" stroke="#505050" stroke-width="0.8" fill="#505050"/>
<rect x="279" y="2" width="1.2" height="12" fill="#108010"/><linearGradient id="gCan" x1="0" y1="0" x2="0" y2="1"><stop offset="0" stop-color="#90ff90"/><stop offset="1" stop-color="#18d838"/></linearGradient><rect x="277.5" y="4.5" width="4.2" height="7" fill="url(#gCan)" stroke="#0a8a0a" stroke-width="1"/>
<path d="M301.5,4.5 v13 M299,15.5 h13.5" stroke="#505050" stroke-width="1" fill="none"/>
<path d="M300,6 l1.5,-2 l1.5,2 Z M311,14 l2,1.5 l-2,1.5 Z" stroke="#505050" stroke-width="0.8" fill="#505050"/>
<path d="M303,12.5 q4,-6 6,-5 q2,1 5,3.5" stroke="#2a9a2a" stroke-width="1.2" fill="none"/>
<rect x="322" y="0" width="1" height="21" fill="#a0a0a0" shape-rendering="crispEdges"/><rect x="323" y="0" width="1" height="21" fill="#ffffff" shape-rendering="crispEdges"/>
<line x1="340" y1="12" x2="345.5" y2="17" stroke="#c8a020" stroke-width="2.6"/>
<line x1="340" y1="12" x2="345.5" y2="17" stroke="#f0e080" stroke-width="1"/>
<circle cx="337" cy="8" r="5.3" fill="#d8ecfa" stroke="#3c80c8" stroke-width="1.2"/>
<rect x="334" y="7.2" width="6" height="1.8" fill="#3a7fb8"/>
<rect x="336.1" y="5" width="1.8" height="6" fill="#3a7fb8"/>
<line x1="368" y1="12" x2="373.5" y2="17" stroke="#c8a020" stroke-width="2.6"/>
<line x1="368" y1="12" x2="373.5" y2="17" stroke="#f0e080" stroke-width="1"/>
<circle cx="365" cy="8" r="5.3" fill="#d8ecfa" stroke="#3c80c8" stroke-width="1.2"/>
<rect x="362" y="7.2" width="6" height="1.8" fill="#3a7fb8"/>
<rect x="387" y="2" width="8" height="8" fill="#3aa020"/><rect x="388" y="5" width="6" height="4" fill="#fff"/><rect x="388" y="3" width="1" height="1" fill="#e8f0ff"/><rect x="389" y="6" width="4" height="1" fill="#a8e0a0"/>
<rect x="395" y="2" width="8" height="8" fill="#1a50d0"/><rect x="396" y="5" width="6" height="4" fill="#fff"/><rect x="396" y="3" width="1" height="1" fill="#e8f0ff"/><rect x="397" y="6" width="4" height="1" fill="#a0b8f0"/>
<rect x="387" y="10" width="8" height="8" fill="#1a50d0"/><rect x="388" y="13" width="6" height="4" fill="#fff"/><rect x="388" y="11" width="1" height="1" fill="#e8f0ff"/><rect x="389" y="14" width="4" height="1" fill="#a0b8f0"/>
<rect x="395" y="10" width="8" height="8" fill="#3aa020"/><rect x="396" y="13" width="6" height="4" fill="#fff"/><rect x="396" y="11" width="1" height="1" fill="#e8f0ff"/><rect x="397" y="14" width="4" height="1" fill="#a8e0a0"/>
<rect x="412" y="0" width="1" height="21" fill="#a0a0a0" shape-rendering="crispEdges"/><rect x="413" y="0" width="1" height="21" fill="#ffffff" shape-rendering="crispEdges"/>
<rect x="417" y="0" width="1" height="21" fill="#a0a0a0" shape-rendering="crispEdges"/><rect x="418" y="0" width="1" height="21" fill="#ffffff" shape-rendering="crispEdges"/>
<rect x="418" y="0" width="24" height="20" fill="#e8e8e8"/>
<rect x="418" y="0" width="24" height="20" fill="url(#dots)"/>
<path d="M425.5,4.5 v13 M423,15.5 h13.5" stroke="#505050" stroke-width="1" fill="none"/>
<path d="M424,6 l1.5,-2 l1.5,2 Z M435,14 l2,1.5 l-2,1.5 Z" stroke="#505050" stroke-width="0.8" fill="#505050"/>
<polygon points="431.5,4.5 436,8.2 431.5,11.8" fill="#90e090" stroke="#18a018" stroke-width="1"/>
<rect x="445" y="0" width="1" height="21" fill="#a0a0a0" shape-rendering="crispEdges"/><rect x="446" y="0" width="1" height="21" fill="#ffffff" shape-rendering="crispEdges"/>
<rect x="446" y="0" width="24" height="20" fill="#e8e8e8"/>
<rect x="446" y="0" width="24" height="20" fill="url(#dots)"/>
<path d="M453.5,4.5 v13 M451,15.5 h13.5" stroke="#505050" stroke-width="1" fill="none"/>
<path d="M452,6 l1.5,-2 l1.5,2 Z M463,14 l2,1.5 l-2,1.5 Z" stroke="#505050" stroke-width="0.8" fill="#505050"/>
<rect x="459" y="3" width="1" height="11" fill="#1a70b0"/><path d="M461,9.5 h4 M461,9.5 l2.5,-2.5 M461,9.5 l2.5,2.5" stroke="#e04010" stroke-width="1.4" fill="none"/>
<rect x="474" y="0" width="1" height="21" fill="#a0a0a0" shape-rendering="crispEdges"/><rect x="475" y="0" width="1" height="21" fill="#ffffff" shape-rendering="crispEdges"/>
<path d="M484.5,3.2 q0,-1 1,-1 h6.6 l2.8,2.8 v9.5 q0,1 -1,1 h-8.4 q-1,0 -1,-1 z" fill="#fafafa" stroke="#6a6a6a" stroke-width="1"/>
<path d="M489.5,12.5 q-1,0 -0.6,-2 l0.6,-3 q0.4,-2 2,-1.5" stroke="#403020" fill="none" stroke-width="0.9"/>
<path d="M492.6,8.3 h3.6 v4 h4 v3.6 h-4 v4 h-3.6 v-4 h-4 v-3.6 h4 z" fill="url(#gPlus)" stroke="#007a10" stroke-width="0.9"/>
<polygon points="505.8,9 511.3,9 508.55,12" fill="#000"/>
<radialGradient id="gRing" cx="0.4" cy="0.3" r="0.8"><stop offset="0" stop-color="#5ab0ff"/><stop offset="1" stop-color="#0a4ab8"/></radialGradient>
<circle cx="530" cy="9.8" r="8" fill="url(#gRing)"/><circle cx="530" cy="9.8" r="5.7" fill="url(#gClock)"/>
<rect x="529.60" y="4.80" width="0.8" height="0.8" fill="#888"/>
<rect x="531.90" y="5.42" width="0.8" height="0.8" fill="#888"/>
<rect x="533.58" y="7.10" width="0.8" height="0.8" fill="#888"/>
<rect x="534.20" y="9.40" width="0.8" height="0.8" fill="#888"/>
<rect x="533.58" y="11.70" width="0.8" height="0.8" fill="#888"/>
<rect x="531.90" y="13.38" width="0.8" height="0.8" fill="#888"/>
<rect x="529.60" y="14.00" width="0.8" height="0.8" fill="#888"/>
<rect x="527.30" y="13.38" width="0.8" height="0.8" fill="#888"/>
<rect x="525.62" y="11.70" width="0.8" height="0.8" fill="#888"/>
<rect x="525.00" y="9.40" width="0.8" height="0.8" fill="#888"/>
<rect x="525.62" y="7.10" width="0.8" height="0.8" fill="#888"/>
<rect x="527.30" y="5.42" width="0.8" height="0.8" fill="#888"/>
<path d="M529.6,6 v4.2 h3" stroke="#222" stroke-width="1.1" fill="none"/>
<polygon points="544.8,9 550.3,9 547.55,12" fill="#000"/>
<rect x="561.5" y="3.5" width="15" height="13" rx="1" fill="#fff" stroke="#2a6ac8" stroke-width="1"/><rect x="562" y="4" width="14" height="2" fill="#5a9ae0"/>
<path d="M563.5,9.6 h2 l1.5,-1.4 h1.5 l1.5,1.2 h1.6 l1.5,-1.3 h2" stroke="#b02810" stroke-width="1.1" fill="none"/>
<rect x="562" y="11" width="14" height="1" fill="#2a6ac8"/>
<path d="M563.5,14.6 l2,-1 l1.5,0.8 l2,-1.2 l1.5,0.6 l2,-2 l1.5,1.4 l1.5,1.4" stroke="#20a020" stroke-width="1.1" fill="none"/>
<polygon points="584,9 589.5,9 586.75,12" fill="#000"/>
<rect x="595" y="0" width="1" height="21" fill="#a0a0a0" shape-rendering="crispEdges"/><rect x="596" y="0" width="1" height="21" fill="#ffffff" shape-rendering="crispEdges"/>
<rect x="599" y="0" width="3" height="1" fill="#a8a8a8" shape-rendering="crispEdges"/>
<rect x="599" y="2" width="3" height="1" fill="#a8a8a8" shape-rendering="crispEdges"/>
<rect x="599" y="4" width="3" height="1" fill="#a8a8a8" shape-rendering="crispEdges"/>
<rect x="599" y="6" width="3" height="1" fill="#a8a8a8" shape-rendering="crispEdges"/>
<rect x="599" y="8" width="3" height="1" fill="#a8a8a8" shape-rendering="crispEdges"/>
<rect x="599" y="10" width="3" height="1" fill="#a8a8a8" shape-rendering="crispEdges"/>
<rect x="599" y="12" width="3" height="1" fill="#a8a8a8" shape-rendering="crispEdges"/>
<rect x="599" y="14" width="3" height="1" fill="#a8a8a8" shape-rendering="crispEdges"/>
<rect x="599" y="16" width="3" height="1" fill="#a8a8a8" shape-rendering="crispEdges"/>
<rect x="599" y="18" width="3" height="1" fill="#a8a8a8" shape-rendering="crispEdges"/>
<rect x="605" y="0" width="1" height="21" fill="#a0a0a0" shape-rendering="crispEdges"/><rect x="606" y="0" width="1" height="21" fill="#ffffff" shape-rendering="crispEdges"/>
<rect x="606" y="0" width="24" height="20" fill="#e8e8e8"/>
<rect x="606" y="0" width="24" height="20" fill="url(#dots)"/>
<path d="M613,3 L621,10.5 L617.5,10.5 L619.5,15.5 L617.5,16.5 L615.5,11.5 L613,14 Z" fill="#555"/>
<path d="M645.5,3 v15 M638,10.5 h15" stroke="#555" stroke-width="1.2"/><rect x="644" y="9" width="3" height="3" fill="#f0f0f0"/><rect x="645" y="10" width="1" height="1" fill="#555"/>
<rect x="662" y="0" width="1" height="21" fill="#a0a0a0" shape-rendering="crispEdges"/><rect x="663" y="0" width="1" height="21" fill="#ffffff" shape-rendering="crispEdges"/>
<rect x="679" y="4" width="1.2" height="13" fill="#555"/>
<rect x="702" y="10" width="12" height="1.2" fill="#555"/>
<line x1="730" y1="16.5" x2="742" y2="4.5" stroke="#555" stroke-width="1.1"/>
<path d="M756.2,11.4 L763.7,4.2 M761.3,16.5 L770,8.2" stroke="#555" stroke-width="0.9" fill="none"/>
<path d="M758.3,9.3 q0.6,3.5 0.2,7.5 M761.4,8.2 q0.5,3 0.1,5.6 M764.6,6.3 q0.6,3.2 0.2,6.5 M767.6,2 q0.8,3.6 0.8,7.3" stroke="#444" stroke-width="1.1" fill="none"/>
<text x="766.6" y="18.9" font-size="7.5" font-weight="700" fill="#3a3a3a">E</text>
<rect x="785" y="3" width="1" height="1" fill="#555"/>
<rect x="787" y="3" width="1" height="1" fill="#555"/>
<rect x="789" y="3" width="1" height="1" fill="#555"/>
<rect x="791" y="3" width="1" height="1" fill="#555"/>
<rect x="793" y="3" width="1" height="1" fill="#555"/>
<rect x="795" y="3" width="1" height="1" fill="#555"/>
<rect x="797" y="3" width="1" height="1" fill="#555"/>
<rect x="785" y="6" width="1" height="1" fill="#555"/>
<rect x="787" y="6" width="1" height="1" fill="#555"/>
<rect x="789" y="6" width="1" height="1" fill="#555"/>
<rect x="791" y="6" width="1" height="1" fill="#555"/>
<rect x="793" y="6" width="1" height="1" fill="#555"/>
<rect x="795" y="6" width="1" height="1" fill="#555"/>
<rect x="797" y="6" width="1" height="1" fill="#555"/>
<rect x="785" y="10" width="1" height="1" fill="#555"/>
<rect x="787" y="10" width="1" height="1" fill="#555"/>
<rect x="789" y="10" width="1" height="1" fill="#555"/>
<rect x="791" y="10" width="1" height="1" fill="#555"/>
<rect x="793" y="10" width="1" height="1" fill="#555"/>
<rect x="795" y="10" width="1" height="1" fill="#555"/>
<rect x="797" y="10" width="1" height="1" fill="#555"/>
<rect x="785" y="14" width="1" height="1" fill="#555"/>
<rect x="787" y="14" width="1" height="1" fill="#555"/>
<rect x="789" y="14" width="1" height="1" fill="#555"/>
<rect x="791" y="14" width="1" height="1" fill="#555"/>
<rect x="793" y="14" width="1" height="1" fill="#555"/>
<rect x="795" y="14" width="1" height="1" fill="#555"/>
<rect x="797" y="14" width="1" height="1" fill="#555"/>
<text x="794.5" y="19" font-size="7.5" font-weight="700" fill="#3a3a3a">F</text>
<text x="815.6" y="15.3" font-size="12" font-weight="700" fill="#555" style="fill:#555">A</text>
<rect x="842" y="16" width="1.2" height="1.2" fill="#333"/>
<rect x="844" y="16" width="1.2" height="1.2" fill="#333"/>
<rect x="846" y="16" width="1.2" height="1.2" fill="#333"/>
<rect x="848" y="16" width="1.2" height="1.2" fill="#333"/>
<rect x="850" y="16" width="1.2" height="1.2" fill="#333"/>
<rect x="852" y="16" width="1.2" height="1.2" fill="#333"/>
<rect x="845" y="4" width="1.2" height="1.2" fill="#333"/>
<rect x="847" y="4" width="1.2" height="1.2" fill="#333"/>
<rect x="849" y="4" width="1.2" height="1.2" fill="#333"/>
<rect x="851" y="4" width="1.2" height="1.2" fill="#333"/>
<rect x="853" y="4" width="1.2" height="1.2" fill="#333"/>
<rect x="842" y="6" width="1.2" height="1.2" fill="#333"/><rect x="853" y="6" width="1.2" height="1.2" fill="#333"/>
<rect x="842" y="8" width="1.2" height="1.2" fill="#333"/><rect x="853" y="8" width="1.2" height="1.2" fill="#333"/>
<rect x="842" y="10" width="1.2" height="1.2" fill="#333"/><rect x="853" y="10" width="1.2" height="1.2" fill="#333"/>
<rect x="842" y="12" width="1.2" height="1.2" fill="#333"/><rect x="853" y="12" width="1.2" height="1.2" fill="#333"/>
<rect x="842" y="14" width="1.2" height="1.2" fill="#333"/><rect x="853" y="14" width="1.2" height="1.2" fill="#333"/>
<rect x="841" y="3" width="2.5" height="2" fill="#333"/>
<rect x="844" y="7" width="8" height="1.3" fill="#4a4a4a"/><rect x="847" y="7" width="2" height="8" fill="#4a4a4a"/>
<path d="M872.5,3.8 L876,7.6 L873.7,7.6 L873.7,8.8 L871.3,8.8 L871.3,7.6 L869,7.6 Z" fill="#444"/>
<path d="M871.2,11.2 L873.5,13.4 L877.8,8.3" stroke="#444" stroke-width="1.3" fill="none"/>
<path d="M878.4,12.2 L880.6,12.2 L880.6,13.5 L882.9,13.5 L879.5,17 L876,13.5 L878.4,13.5 Z" fill="#444"/>
<polygon points="890,9 895.5,9 892.75,12" fill="#000"/>
<rect x="901" y="0" width="1" height="21" fill="#a0a0a0" shape-rendering="crispEdges"/><rect x="902" y="0" width="1" height="21" fill="#ffffff" shape-rendering="crispEdges"/>
<rect x="905" y="0" width="3" height="1" fill="#a8a8a8" shape-rendering="crispEdges"/>
<rect x="905" y="2" width="3" height="1" fill="#a8a8a8" shape-rendering="crispEdges"/>
<rect x="905" y="4" width="3" height="1" fill="#a8a8a8" shape-rendering="crispEdges"/>
<rect x="905" y="6" width="3" height="1" fill="#a8a8a8" shape-rendering="crispEdges"/>
<rect x="905" y="8" width="3" height="1" fill="#a8a8a8" shape-rendering="crispEdges"/>
<rect x="905" y="10" width="3" height="1" fill="#a8a8a8" shape-rendering="crispEdges"/>
<rect x="905" y="12" width="3" height="1" fill="#a8a8a8" shape-rendering="crispEdges"/>
<rect x="905" y="14" width="3" height="1" fill="#a8a8a8" shape-rendering="crispEdges"/>
<rect x="905" y="16" width="3" height="1" fill="#a8a8a8" shape-rendering="crispEdges"/>
<rect x="905" y="18" width="3" height="1" fill="#a8a8a8" shape-rendering="crispEdges"/>
<rect x="1080" y="0" width="24" height="20" fill="#e8e8e8"/>
<rect x="1080" y="0" width="24" height="20" fill="url(#dots)"/>
<rect x="1079" y="0" width="1" height="21" fill="#a0a0a0" shape-rendering="crispEdges"/><rect x="1080" y="0" width="1" height="21" fill="#ffffff" shape-rendering="crispEdges"/>
<text x="916.9" y="13.9" font-size="9.2" fill="#2a2a2a" textLength="12.1" lengthAdjust="spacingAndGlyphs">M1</text>
<text x="944.8" y="13.9" font-size="9.2" fill="#2a2a2a" textLength="12.5" lengthAdjust="spacingAndGlyphs">M5</text>
<text x="970.7" y="13.9" font-size="9.2" fill="#2a2a2a" textLength="17.3" lengthAdjust="spacingAndGlyphs">M15</text>
<text x="998.6" y="13.9" font-size="9.2" fill="#2a2a2a" textLength="17.5" lengthAdjust="spacingAndGlyphs">M30</text>
<text x="1029.7" y="13.9" font-size="9.2" fill="#2a2a2a" textLength="11.5" lengthAdjust="spacingAndGlyphs">H1</text>
<text x="1056.5" y="13.9" font-size="9.2" fill="#2a2a2a" textLength="12.5" lengthAdjust="spacingAndGlyphs">H4</text>
<text x="1085.5" y="13.9" font-size="9.2" fill="#2a2a2a" textLength="11.5" lengthAdjust="spacingAndGlyphs">D1</text>
<text x="1112.9" y="13.9" font-size="9.2" fill="#2a2a2a" textLength="14.3" lengthAdjust="spacingAndGlyphs">W1</text>
<text x="1139.7" y="13.9" font-size="9.2" fill="#2a2a2a" textLength="14.7" lengthAdjust="spacingAndGlyphs">MN</text>
<rect x="1162" y="0" width="1" height="21" fill="#a0a0a0" shape-rendering="crispEdges"/><rect x="1163" y="0" width="1" height="21" fill="#ffffff" shape-rendering="crispEdges"/>
<circle cx="1632.5" cy="7.3" r="3.8" fill="#fff" stroke="#2060d0" stroke-width="1.4"/>
<line x1="1629.5" y1="10.3" x2="1625.6" y2="14.4" stroke="#2060d0" stroke-width="2.2" stroke-linecap="round"/>
<linearGradient id="gBub" x1="0" y1="0" x2="0" y2="1"><stop offset="0" stop-color="#ffffff"/><stop offset="1" stop-color="#d8d8ec"/></linearGradient>
<path d="M1667,10.5 l0.6,3 l2.2,-3.2 z" fill="#555"/>
<ellipse cx="1666" cy="6.8" rx="6.1" ry="4.5" fill="url(#gBub)" stroke="#7a7a7a" stroke-width="1.1"/>
<path d="M1654,14 l-0.8,2.8 l3,-2.4 z" fill="#555"/>
<ellipse cx="1656.3" cy="10.8" rx="5.5" ry="4.1" fill="url(#gBub)" stroke="#7a7a7a" stroke-width="1.1"/>
</g>
</svg></body></html>
